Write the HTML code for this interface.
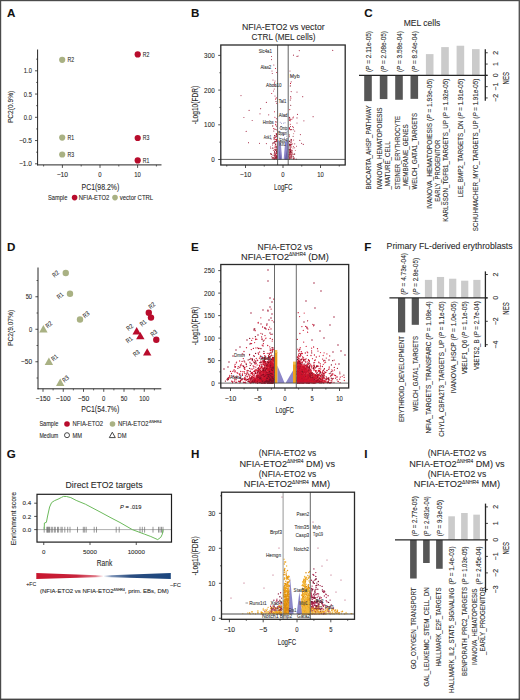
<!DOCTYPE html>
<html><head><meta charset="utf-8"><style>
html,body{margin:0;padding:0;background:#fff;width:520px;height:700px;overflow:hidden}
svg{display:block;font-family:'Liberation Sans', sans-serif;}
text{stroke:#2a2a2a;stroke-width:0.16px;stroke-opacity:0.6}
</style></head><body>
<svg width="520" height="700" viewBox="0 0 520 700" fill="#2a2a2a">
<rect x="0" y="0" width="520" height="700" fill="#fff"/>
<rect x="0.00" y="0.00" width="520.00" height="1.20" fill="#4a4a4a"/>
<rect x="0.00" y="0.00" width="1.20" height="700.00" fill="#4a4a4a"/>
<rect x="518.60" y="0.00" width="1.40" height="700.00" fill="#555"/>
<rect x="0.00" y="698.60" width="520.00" height="1.40" fill="#444"/>
<text x="6.90" y="16.70" font-size="11.6" font-weight="bold" fill="#111">A</text>
<line x1="37.60" y1="49.50" x2="37.60" y2="165.40" stroke="#262626" stroke-width="1"/>
<line x1="37.10" y1="164.90" x2="161.50" y2="164.90" stroke="#262626" stroke-width="1"/>
<line x1="35.00" y1="70.80" x2="37.60" y2="70.80" stroke="#262626" stroke-width="0.8"/>
<text x="31.90" y="73.28" font-size="6.9" text-anchor="end" textLength="8.06" lengthAdjust="spacingAndGlyphs">1.0</text>
<line x1="35.00" y1="94.05" x2="37.60" y2="94.05" stroke="#262626" stroke-width="0.8"/>
<text x="31.90" y="96.53" font-size="6.9" text-anchor="end" textLength="8.06" lengthAdjust="spacingAndGlyphs">0.5</text>
<line x1="35.00" y1="117.30" x2="37.60" y2="117.30" stroke="#262626" stroke-width="0.8"/>
<text x="31.90" y="119.78" font-size="6.9" text-anchor="end" textLength="8.06" lengthAdjust="spacingAndGlyphs">0.0</text>
<line x1="35.00" y1="140.55" x2="37.60" y2="140.55" stroke="#262626" stroke-width="0.8"/>
<text x="31.90" y="143.03" font-size="6.9" text-anchor="end" textLength="12.84" lengthAdjust="spacingAndGlyphs">−0.5</text>
<line x1="35.00" y1="163.80" x2="37.60" y2="163.80" stroke="#262626" stroke-width="0.8"/>
<text x="31.90" y="166.28" font-size="6.9" text-anchor="end" textLength="12.84" lengthAdjust="spacingAndGlyphs">−1.0</text>
<line x1="36.10" y1="59.17" x2="37.60" y2="59.17" stroke="#262626" stroke-width="0.7"/>
<line x1="36.10" y1="82.42" x2="37.60" y2="82.42" stroke="#262626" stroke-width="0.7"/>
<line x1="36.10" y1="105.67" x2="37.60" y2="105.67" stroke="#262626" stroke-width="0.7"/>
<line x1="36.10" y1="128.93" x2="37.60" y2="128.93" stroke="#262626" stroke-width="0.7"/>
<line x1="36.10" y1="152.18" x2="37.60" y2="152.18" stroke="#262626" stroke-width="0.7"/>
<line x1="62.40" y1="164.90" x2="62.40" y2="167.90" stroke="#262626" stroke-width="0.8"/>
<text x="62.40" y="177.28" font-size="6.9" text-anchor="middle" textLength="11.47" lengthAdjust="spacingAndGlyphs">−10</text>
<line x1="100.00" y1="164.90" x2="100.00" y2="167.90" stroke="#262626" stroke-width="0.8"/>
<text x="100.00" y="177.28" font-size="6.9" text-anchor="middle" textLength="3.3" lengthAdjust="spacingAndGlyphs">0</text>
<line x1="137.60" y1="164.90" x2="137.60" y2="167.90" stroke="#262626" stroke-width="0.8"/>
<text x="137.60" y="177.28" font-size="6.9" text-anchor="middle" textLength="6.6" lengthAdjust="spacingAndGlyphs">10</text>
<line x1="43.60" y1="164.90" x2="43.60" y2="166.50" stroke="#262626" stroke-width="0.7"/>
<line x1="81.20" y1="164.90" x2="81.20" y2="166.50" stroke="#262626" stroke-width="0.7"/>
<line x1="118.80" y1="164.90" x2="118.80" y2="166.50" stroke="#262626" stroke-width="0.7"/>
<line x1="156.40" y1="164.90" x2="156.40" y2="166.50" stroke="#262626" stroke-width="0.7"/>
<text x="100.40" y="189.62" font-size="8.4" text-anchor="middle" textLength="37.8" lengthAdjust="spacingAndGlyphs">PC1(98.2%)</text>
<text transform="translate(10.40,106.90) rotate(-90)" x="0" y="2.81" font-size="7.8" text-anchor="middle" textLength="32.4" lengthAdjust="spacingAndGlyphs">PC2(0.9%)</text>
<circle cx="62.20" cy="59.80" r="3.1" fill="#a9b183"/>
<text x="67.50" y="62.18" font-size="6.6" textLength="6.6" lengthAdjust="spacingAndGlyphs">R2</text>
<circle cx="62.20" cy="137.60" r="3.1" fill="#a9b183"/>
<text x="67.50" y="139.98" font-size="6.6" textLength="6.6" lengthAdjust="spacingAndGlyphs">R1</text>
<circle cx="62.20" cy="154.50" r="3.1" fill="#a9b183"/>
<text x="67.50" y="156.88" font-size="6.6" textLength="6.6" lengthAdjust="spacingAndGlyphs">R3</text>
<circle cx="137.70" cy="54.40" r="3.1" fill="#b80c2c"/>
<text x="142.80" y="56.78" font-size="6.6" textLength="6.6" lengthAdjust="spacingAndGlyphs">R2</text>
<circle cx="137.70" cy="138.00" r="3.1" fill="#b80c2c"/>
<text x="142.80" y="140.38" font-size="6.6" textLength="6.6" lengthAdjust="spacingAndGlyphs">R3</text>
<circle cx="137.70" cy="160.40" r="3.1" fill="#b80c2c"/>
<text x="142.80" y="162.78" font-size="6.6" textLength="6.6" lengthAdjust="spacingAndGlyphs">R1</text>
<text x="48.00" y="200.05" font-size="6.8" textLength="19.3" lengthAdjust="spacingAndGlyphs">Sample</text>
<circle cx="74.60" cy="197.60" r="2.8" fill="#b80c2c"/>
<text x="78.80" y="200.05" font-size="6.8" textLength="30.5" lengthAdjust="spacingAndGlyphs">NFIA-ETO2</text>
<circle cx="115.00" cy="197.60" r="2.8" fill="#a9b183"/>
<text x="119.70" y="200.05" font-size="6.8" textLength="33.5" lengthAdjust="spacingAndGlyphs">vector CTRL</text>
<text x="6.95" y="250.90" font-size="11.6" font-weight="bold" fill="#111">D</text>
<line x1="38.00" y1="267.50" x2="38.00" y2="389.30" stroke="#262626" stroke-width="1"/>
<line x1="37.50" y1="388.80" x2="161.30" y2="388.80" stroke="#262626" stroke-width="1"/>
<line x1="35.40" y1="296.75" x2="38.00" y2="296.75" stroke="#262626" stroke-width="0.8"/>
<text x="32.10" y="299.23" font-size="6.9" text-anchor="end" textLength="6.45" lengthAdjust="spacingAndGlyphs">50</text>
<line x1="35.40" y1="329.25" x2="38.00" y2="329.25" stroke="#262626" stroke-width="0.8"/>
<text x="32.10" y="331.73" font-size="6.9" text-anchor="end" textLength="3.22" lengthAdjust="spacingAndGlyphs">0</text>
<line x1="35.40" y1="361.75" x2="38.00" y2="361.75" stroke="#262626" stroke-width="0.8"/>
<text x="32.10" y="364.23" font-size="6.9" text-anchor="end" textLength="11.23" lengthAdjust="spacingAndGlyphs">−50</text>
<line x1="36.50" y1="280.50" x2="38.00" y2="280.50" stroke="#262626" stroke-width="0.7"/>
<line x1="36.50" y1="313.00" x2="38.00" y2="313.00" stroke="#262626" stroke-width="0.7"/>
<line x1="36.50" y1="345.50" x2="38.00" y2="345.50" stroke="#262626" stroke-width="0.7"/>
<line x1="36.50" y1="378.00" x2="38.00" y2="378.00" stroke="#262626" stroke-width="0.7"/>
<line x1="43.00" y1="388.80" x2="43.00" y2="391.80" stroke="#262626" stroke-width="0.8"/>
<text x="43.00" y="400.78" font-size="6.9" text-anchor="middle" textLength="14.77" lengthAdjust="spacingAndGlyphs">−150</text>
<line x1="63.25" y1="388.80" x2="63.25" y2="391.80" stroke="#262626" stroke-width="0.8"/>
<text x="63.25" y="400.78" font-size="6.9" text-anchor="middle" textLength="14.77" lengthAdjust="spacingAndGlyphs">−100</text>
<line x1="83.50" y1="388.80" x2="83.50" y2="391.80" stroke="#262626" stroke-width="0.8"/>
<text x="83.50" y="400.78" font-size="6.9" text-anchor="middle" textLength="11.47" lengthAdjust="spacingAndGlyphs">−50</text>
<line x1="103.75" y1="388.80" x2="103.75" y2="391.80" stroke="#262626" stroke-width="0.8"/>
<text x="103.75" y="400.78" font-size="6.9" text-anchor="middle" textLength="3.3" lengthAdjust="spacingAndGlyphs">0</text>
<line x1="124.00" y1="388.80" x2="124.00" y2="391.80" stroke="#262626" stroke-width="0.8"/>
<text x="124.00" y="400.78" font-size="6.9" text-anchor="middle" textLength="6.6" lengthAdjust="spacingAndGlyphs">50</text>
<line x1="144.25" y1="388.80" x2="144.25" y2="391.80" stroke="#262626" stroke-width="0.8"/>
<text x="144.25" y="400.78" font-size="6.9" text-anchor="middle" textLength="9.9" lengthAdjust="spacingAndGlyphs">100</text>
<line x1="53.12" y1="388.80" x2="53.12" y2="390.40" stroke="#262626" stroke-width="0.7"/>
<line x1="73.38" y1="388.80" x2="73.38" y2="390.40" stroke="#262626" stroke-width="0.7"/>
<line x1="93.62" y1="388.80" x2="93.62" y2="390.40" stroke="#262626" stroke-width="0.7"/>
<line x1="113.88" y1="388.80" x2="113.88" y2="390.40" stroke="#262626" stroke-width="0.7"/>
<line x1="134.12" y1="388.80" x2="134.12" y2="390.40" stroke="#262626" stroke-width="0.7"/>
<line x1="154.38" y1="388.80" x2="154.38" y2="390.40" stroke="#262626" stroke-width="0.7"/>
<text x="100.30" y="412.22" font-size="8.4" text-anchor="middle" textLength="38" lengthAdjust="spacingAndGlyphs">PC1(54.7%)</text>
<text transform="translate(10.60,327.90) rotate(-90)" x="0" y="2.81" font-size="7.8" text-anchor="middle" textLength="36" lengthAdjust="spacingAndGlyphs">PC2(9.07%)</text>
<circle cx="65.75" cy="273.00" r="3.2" fill="#a9b183"/>
<circle cx="70.00" cy="293.75" r="3.2" fill="#a9b183"/>
<circle cx="80.00" cy="319.50" r="3.2" fill="#a9b183"/>
<polygon points="43.40,325.12 39.20,332.42 47.60,332.42" fill="#a9b183"/>
<polygon points="48.90,357.62 44.70,364.92 53.10,364.92" fill="#a9b183"/>
<polygon points="60.20,378.62 56.00,385.92 64.40,385.92" fill="#a9b183"/>
<circle cx="148.80" cy="312.80" r="3.2" fill="#b80c2c"/>
<circle cx="151.00" cy="317.60" r="3.2" fill="#b80c2c"/>
<circle cx="156.30" cy="339.70" r="3.2" fill="#b80c2c"/>
<polygon points="136.70,327.12 132.50,334.42 140.90,334.42" fill="#b80c2c"/>
<polygon points="140.30,331.92 136.10,339.22 144.50,339.22" fill="#b80c2c"/>
<polygon points="147.20,348.22 143.00,355.52 151.40,355.52" fill="#b80c2c"/>
<text transform="translate(55.50,273.80) rotate(-40)" x="0" y="2.30" font-size="6.4" text-anchor="middle" textLength="6.6" lengthAdjust="spacingAndGlyphs">R2</text>
<text transform="translate(60.00,295.50) rotate(-40)" x="0" y="2.30" font-size="6.4" text-anchor="middle" textLength="6.6" lengthAdjust="spacingAndGlyphs">R1</text>
<text transform="translate(86.00,314.50) rotate(-40)" x="0" y="2.30" font-size="6.4" text-anchor="middle" textLength="6.6" lengthAdjust="spacingAndGlyphs">R3</text>
<text transform="translate(48.80,324.50) rotate(-40)" x="0" y="2.30" font-size="6.4" text-anchor="middle" textLength="6.6" lengthAdjust="spacingAndGlyphs">R2</text>
<text transform="translate(54.50,357.50) rotate(-40)" x="0" y="2.30" font-size="6.4" text-anchor="middle" textLength="6.6" lengthAdjust="spacingAndGlyphs">R1</text>
<text transform="translate(65.50,378.80) rotate(-40)" x="0" y="2.30" font-size="6.4" text-anchor="middle" textLength="6.6" lengthAdjust="spacingAndGlyphs">R3</text>
<text transform="translate(151.70,305.60) rotate(-40)" x="0" y="2.30" font-size="6.4" text-anchor="middle" textLength="6.6" lengthAdjust="spacingAndGlyphs">R2</text>
<text transform="translate(143.00,322.90) rotate(-40)" x="0" y="2.30" font-size="6.4" text-anchor="middle" textLength="6.6" lengthAdjust="spacingAndGlyphs">R1</text>
<text transform="translate(129.60,327.20) rotate(-40)" x="0" y="2.30" font-size="6.4" text-anchor="middle" textLength="6.6" lengthAdjust="spacingAndGlyphs">R2</text>
<text transform="translate(129.10,339.70) rotate(-40)" x="0" y="2.30" font-size="6.4" text-anchor="middle" textLength="6.6" lengthAdjust="spacingAndGlyphs">R1</text>
<text transform="translate(153.70,333.00) rotate(-40)" x="0" y="2.30" font-size="6.4" text-anchor="middle" textLength="6.6" lengthAdjust="spacingAndGlyphs">R3</text>
<text transform="translate(136.30,353.20) rotate(-40)" x="0" y="2.30" font-size="6.4" text-anchor="middle" textLength="6.6" lengthAdjust="spacingAndGlyphs">R3</text>
<text x="39.40" y="426.45" font-size="6.8" textLength="18.9" lengthAdjust="spacingAndGlyphs">Sample</text>
<circle cx="67.00" cy="424.00" r="2.8" fill="#b80c2c"/>
<text x="72.50" y="426.45" font-size="6.8" textLength="30.5" lengthAdjust="spacingAndGlyphs">NFIA-ETO2</text>
<circle cx="112.50" cy="424.00" r="2.8" fill="#a9b183"/>
<text x="118.00" y="426.45" font-size="6.8" textLength="30.5" lengthAdjust="spacingAndGlyphs">NFIA-ETO2</text>
<text x="149.00" y="422.57" font-size="3.8" textLength="12.5" lengthAdjust="spacingAndGlyphs">ΔNHR4</text>
<text x="39.40" y="437.65" font-size="6.8" textLength="18.9" lengthAdjust="spacingAndGlyphs">Medium</text>
<circle cx="67" cy="435.2" r="2.5" fill="none" stroke="#333" stroke-width="0.9"/>
<text x="72.50" y="437.65" font-size="6.8" textLength="9.5" lengthAdjust="spacingAndGlyphs">MM</text>
<polygon points="112.3,432.2 109.3,437.6 115.3,437.6" fill="none" stroke="#333" stroke-width="0.9"/>
<text x="117.60" y="437.65" font-size="6.8" textLength="9" lengthAdjust="spacingAndGlyphs">DM</text>
<text x="6.70" y="458.30" font-size="11.6" font-weight="bold" fill="#111">G</text>
<text x="65.50" y="488.38" font-size="9.4" textLength="77" lengthAdjust="spacingAndGlyphs">Direct ETO2 targets</text>
<line x1="37.00" y1="529.60" x2="171.50" y2="529.60" stroke="#9a9a9a" stroke-width="0.8"/>
<line x1="44.20" y1="526.80" x2="44.20" y2="532.60" stroke="#6a6a6a" stroke-width="0.7"/>
<line x1="46.80" y1="526.80" x2="46.80" y2="532.60" stroke="#6a6a6a" stroke-width="0.7"/>
<line x1="47.50" y1="526.80" x2="47.50" y2="532.60" stroke="#6a6a6a" stroke-width="0.7"/>
<line x1="48.20" y1="526.80" x2="48.20" y2="532.60" stroke="#6a6a6a" stroke-width="0.7"/>
<line x1="48.80" y1="526.80" x2="48.80" y2="532.60" stroke="#6a6a6a" stroke-width="0.7"/>
<line x1="49.50" y1="526.80" x2="49.50" y2="532.60" stroke="#6a6a6a" stroke-width="0.7"/>
<line x1="51.20" y1="526.80" x2="51.20" y2="532.60" stroke="#6a6a6a" stroke-width="0.7"/>
<line x1="52.30" y1="526.80" x2="52.30" y2="532.60" stroke="#6a6a6a" stroke-width="0.7"/>
<line x1="54.30" y1="526.80" x2="54.30" y2="532.60" stroke="#6a6a6a" stroke-width="0.7"/>
<line x1="55.30" y1="526.80" x2="55.30" y2="532.60" stroke="#6a6a6a" stroke-width="0.7"/>
<line x1="57.50" y1="526.80" x2="57.50" y2="532.60" stroke="#6a6a6a" stroke-width="0.7"/>
<line x1="58.60" y1="526.80" x2="58.60" y2="532.60" stroke="#6a6a6a" stroke-width="0.7"/>
<line x1="61.00" y1="526.80" x2="61.00" y2="532.60" stroke="#6a6a6a" stroke-width="0.7"/>
<line x1="62.20" y1="526.80" x2="62.20" y2="532.60" stroke="#6a6a6a" stroke-width="0.7"/>
<line x1="64.80" y1="526.80" x2="64.80" y2="532.60" stroke="#6a6a6a" stroke-width="0.7"/>
<line x1="67.70" y1="526.80" x2="67.70" y2="532.60" stroke="#6a6a6a" stroke-width="0.7"/>
<line x1="70.00" y1="526.80" x2="70.00" y2="532.60" stroke="#6a6a6a" stroke-width="0.7"/>
<line x1="77.50" y1="526.80" x2="77.50" y2="532.60" stroke="#6a6a6a" stroke-width="0.7"/>
<line x1="83.30" y1="526.80" x2="83.30" y2="532.60" stroke="#6a6a6a" stroke-width="0.7"/>
<line x1="84.70" y1="526.80" x2="84.70" y2="532.60" stroke="#6a6a6a" stroke-width="0.7"/>
<line x1="86.20" y1="526.80" x2="86.20" y2="532.60" stroke="#6a6a6a" stroke-width="0.7"/>
<line x1="94.20" y1="526.80" x2="94.20" y2="532.60" stroke="#6a6a6a" stroke-width="0.7"/>
<line x1="96.50" y1="526.80" x2="96.50" y2="532.60" stroke="#6a6a6a" stroke-width="0.7"/>
<line x1="116.20" y1="526.80" x2="116.20" y2="532.60" stroke="#6a6a6a" stroke-width="0.7"/>
<line x1="119.20" y1="526.80" x2="119.20" y2="532.60" stroke="#6a6a6a" stroke-width="0.7"/>
<line x1="140.00" y1="526.80" x2="140.00" y2="532.60" stroke="#6a6a6a" stroke-width="0.7"/>
<line x1="142.30" y1="526.80" x2="142.30" y2="532.60" stroke="#6a6a6a" stroke-width="0.7"/>
<line x1="144.60" y1="526.80" x2="144.60" y2="532.60" stroke="#6a6a6a" stroke-width="0.7"/>
<line x1="153.00" y1="526.80" x2="153.00" y2="532.60" stroke="#6a6a6a" stroke-width="0.7"/>
<line x1="158.50" y1="526.80" x2="158.50" y2="532.60" stroke="#6a6a6a" stroke-width="0.7"/>
<line x1="160.00" y1="526.80" x2="160.00" y2="532.60" stroke="#6a6a6a" stroke-width="0.7"/>
<line x1="161.50" y1="526.80" x2="161.50" y2="532.60" stroke="#6a6a6a" stroke-width="0.7"/>
<line x1="163.00" y1="526.80" x2="163.00" y2="532.60" stroke="#6a6a6a" stroke-width="0.7"/>
<polyline fill="none" stroke="#6cba5c" stroke-width="1" stroke-linejoin="round" points="44.2,529.5 44.4,523.0 46.4,522.3 47.6,516.0 49.6,507.0 51.6,502.6 54.6,500.6 58.0,499.2 61.5,497.4 63.5,496.4 66.5,496.5 70.8,497.6 76.2,500.4 85.4,504.2 100.0,511.9 110.0,517.3 120.0,522.5 132.3,529.6 144.6,534.2 150.8,536.5 157.7,539.6 160.8,537.3 162.3,534.2 163.0,529.6"/>
<rect x="37" y="494.3" width="134.5" height="47.8" fill="none" stroke="#1e1e1e" stroke-width="1.2"/>
<line x1="34.20" y1="503.20" x2="37.00" y2="503.20" stroke="#262626" stroke-width="0.8"/>
<text x="31.20" y="505.43" font-size="6.2" text-anchor="end">0.4</text>
<line x1="34.20" y1="516.40" x2="37.00" y2="516.40" stroke="#262626" stroke-width="0.8"/>
<text x="31.20" y="518.63" font-size="6.2" text-anchor="end">0.2</text>
<line x1="34.20" y1="529.60" x2="37.00" y2="529.60" stroke="#262626" stroke-width="0.8"/>
<text x="31.20" y="531.83" font-size="6.2" text-anchor="end">0.0</text>
<line x1="43.75" y1="542.20" x2="43.75" y2="545.00" stroke="#262626" stroke-width="0.8"/>
<text x="43.75" y="554.43" font-size="6.2" text-anchor="middle">0</text>
<line x1="90.00" y1="542.20" x2="90.00" y2="545.00" stroke="#262626" stroke-width="0.8"/>
<text x="90.00" y="554.43" font-size="6.2" text-anchor="middle">5000</text>
<line x1="136.25" y1="542.20" x2="136.25" y2="545.00" stroke="#262626" stroke-width="0.8"/>
<text x="136.25" y="554.43" font-size="6.2" text-anchor="middle">10000</text>
<text x="104.50" y="565.95" font-size="8.2" text-anchor="middle" textLength="15.5" lengthAdjust="spacingAndGlyphs">Rank</text>
<text transform="translate(13.20,518.60) rotate(-90)" x="0" y="2.81" font-size="7.8" text-anchor="middle" textLength="53.5" lengthAdjust="spacingAndGlyphs">Enrichment score</text>
<text x="120.00" y="508.69" font-size="5.8" textLength="21.5" lengthAdjust="spacingAndGlyphs"><tspan font-style="italic">P</tspan> = .019</text>
<defs><linearGradient id="gw" x1="0" x2="1" y1="0" y2="0">
<stop offset="0" stop-color="#c8162e"/><stop offset="0.3" stop-color="#c8243c"/><stop offset="0.44" stop-color="#e07a88"/><stop offset="0.5" stop-color="#ffffff"/>
<stop offset="0.56" stop-color="#7f95b8"/><stop offset="0.7" stop-color="#2a4d80"/><stop offset="1" stop-color="#1b467e"/></linearGradient></defs>
<polygon points="36.3,572.9 103.5,575.4 170.8,572.9 170.8,579.1 103.5,577.0 36.3,579.1" fill="url(#gw)"/>
<text x="26.30" y="586.32" font-size="5.6" textLength="10" lengthAdjust="spacingAndGlyphs">+FC</text>
<text x="170.00" y="587.02" font-size="5.6" textLength="11" lengthAdjust="spacingAndGlyphs">−FC</text>
<text x="40.00" y="593.24" font-size="5.4" textLength="128.7" lengthAdjust="spacingAndGlyphs">(NFIA-ETO2 vs NFIA-ETO2<tspan font-size="3" dy="-2">ΔNHR4</tspan><tspan dy="2">, prim. EBs, DM)</tspan></text>
<text x="191.05" y="16.70" font-size="11.6" font-weight="bold" fill="#111">B</text>
<text x="283.30" y="30.28" font-size="9.4" text-anchor="middle" textLength="82.8" lengthAdjust="spacingAndGlyphs">NFIA-ETO2 vs vector</text>
<text x="283.60" y="39.98" font-size="9.4" text-anchor="middle" textLength="64" lengthAdjust="spacingAndGlyphs">CTRL (MEL cells)</text>
<polygon points="278.2,159.4 278.2,140 280.6,142 282.3,159.4" fill="#8c86c8"/>
<polygon points="283.6,159.4 285.2,142 288.2,140 288.2,159.4" fill="#8c86c8"/>
<polygon points="279.2,159.4 279.5,150 281.2,159.4" fill="#6a62a8"/>
<polygon points="284.8,159.4 286.8,150 287.3,159.4" fill="#6a62a8"/>
<path d="M282.9 133.2h0M287.1 131.3h0M283.4 133.7h0M280.5 132.2h0M284.5 137.9h0M279.6 128.1h0M279.6 138.2h0M285.0 122.8h0M287.6 141.3h0M284.7 134.3h0M280.2 122.3h0M283.6 123.2h0M280.5 126.8h0M279.1 131.3h0M282.8 138.8h0M283.5 134.8h0M283.3 135.2h0M282.9 127.6h0M287.8 141.9h0M286.4 136.2h0M281.6 126.6h0M281.4 123.4h0M285.7 130.0h0M286.4 129.7h0M287.4 138.9h0" stroke="#8f8ac4" stroke-width="1.00" stroke-linecap="round" fill="none"/>
<path d="M276.8 157.0h0M276.7 149.5h0M276.4 156.5h0M276.4 146.1h0M276.4 129.9h0M274.6 156.7h0M276.7 159.2h0M274.7 138.1h0M275.8 144.3h0M273.5 158.6h0M276.4 157.6h0M274.9 154.0h0M275.8 143.6h0M276.1 141.6h0M275.3 155.9h0M274.3 154.9h0M272.5 158.6h0M275.3 139.5h0M276.4 146.8h0M272.7 126.1h0M273.8 158.8h0M276.5 155.4h0M271.6 154.0h0M276.1 154.7h0M272.6 157.4h0M275.1 159.1h0M275.5 154.5h0M272.1 158.3h0" stroke="#c8646e" stroke-width="1.00" stroke-linecap="round" fill="none"/>
<path d="M275.7 121.8h0M273.9 157.7h0M275.7 157.4h0M272.9 157.4h0M275.1 155.0h0M271.0 154.2h0M275.3 141.3h0M276.8 156.3h0M276.7 157.5h0M275.3 158.1h0M272.8 125.9h0M275.0 153.3h0M276.7 151.5h0M272.7 148.1h0M274.0 137.4h0M275.3 150.2h0M273.0 148.2h0M274.4 151.5h0M276.7 150.2h0M276.3 147.6h0M276.8 155.8h0M273.0 155.2h0M276.1 158.0h0M273.5 142.8h0M275.8 149.9h0M273.1 159.0h0M276.8 157.9h0M276.5 158.9h0M275.7 149.9h0M273.8 131.1h0M276.8 153.0h0M276.4 156.3h0M274.6 152.6h0M274.5 158.1h0M275.0 136.9h0M271.6 154.4h0M272.5 143.2h0M276.6 153.6h0M276.5 157.8h0M274.5 142.7h0M276.6 156.9h0M276.2 146.7h0M275.5 141.8h0M270.6 153.7h0M276.4 151.8h0M275.3 153.0h0M276.7 151.7h0M275.6 158.1h0M273.8 139.0h0M276.1 157.3h0M274.7 155.8h0" stroke="#7e0f22" stroke-width="1.00" stroke-linecap="round" fill="none"/>
<path d="M276.2 158.5h0M270.8 148.4h0M276.3 158.4h0M276.5 149.2h0M275.8 157.1h0M270.4 147.0h0M273.3 150.5h0M276.1 156.0h0M276.6 150.7h0M273.2 157.7h0M272.5 145.1h0M275.1 154.3h0M276.7 126.6h0M275.2 156.1h0M274.5 158.7h0M276.2 135.0h0M274.7 151.3h0M274.6 129.2h0M275.2 150.6h0M275.1 135.7h0M276.1 148.7h0M271.4 156.8h0M275.7 156.3h0M275.7 158.7h0M276.8 141.7h0M276.4 153.1h0M275.0 147.6h0M275.4 144.6h0M274.2 153.4h0M271.1 139.2h0M276.8 157.2h0" stroke="#b03048" stroke-width="1.00" stroke-linecap="round" fill="none"/>
<path d="M290.9 158.3h0M289.6 151.2h0M290.0 153.7h0M289.5 156.9h0M289.4 153.8h0M289.2 156.9h0M290.5 144.5h0M289.4 159.0h0M289.9 152.7h0M290.3 145.2h0M289.6 157.4h0M291.4 139.5h0M290.1 149.7h0M291.8 154.2h0M289.3 154.8h0M289.2 154.6h0M291.2 155.2h0M290.7 151.5h0M296.2 159.2h0M291.6 156.4h0M289.3 157.0h0M294.0 157.8h0M289.5 152.0h0M289.3 127.6h0M290.5 149.9h0M289.8 148.0h0M289.5 144.1h0M290.3 147.8h0M289.7 150.0h0M291.3 151.0h0M289.3 155.9h0M291.0 158.3h0M289.3 158.4h0M290.6 149.0h0M290.4 156.9h0M289.4 141.3h0M291.8 157.0h0M289.7 141.5h0M289.9 150.9h0M293.8 154.3h0M289.4 150.3h0M289.3 156.8h0M289.4 155.4h0M290.0 145.6h0M289.4 145.9h0M293.3 156.7h0M290.0 154.6h0M290.1 157.1h0M290.5 151.2h0M289.4 158.5h0M293.3 158.6h0M289.5 144.5h0M290.5 144.3h0M291.2 152.5h0M290.2 140.8h0M293.2 129.7h0M289.3 152.7h0M291.8 155.7h0M293.1 136.4h0M290.6 126.6h0" stroke="#7e0f22" stroke-width="1.00" stroke-linecap="round" fill="none"/>
<path d="M289.4 151.6h0M290.9 139.4h0M293.1 158.1h0M291.5 156.4h0M293.6 127.6h0M291.3 157.3h0M290.5 150.6h0M293.9 158.5h0M290.2 149.7h0M291.4 140.6h0M296.5 146.3h0M291.0 142.4h0M290.8 144.7h0M289.8 145.8h0M289.2 156.3h0M293.3 146.6h0M292.3 150.4h0M291.0 153.2h0M289.3 151.2h0M294.7 147.8h0M291.0 154.8h0M291.0 145.0h0M293.7 140.1h0M291.7 141.2h0M289.4 136.7h0M291.3 156.0h0M290.2 142.2h0M293.0 156.3h0M290.2 153.6h0M290.0 157.4h0M289.3 155.4h0M291.1 144.1h0M293.5 159.1h0M289.6 156.7h0M291.5 150.3h0M289.6 155.8h0M292.3 153.0h0" stroke="#b03048" stroke-width="1.00" stroke-linecap="round" fill="none"/>
<path d="M291.0 151.7h0M291.6 142.8h0M289.9 155.3h0M292.4 154.1h0M289.6 156.9h0M294.6 154.0h0M289.2 134.8h0M293.6 146.8h0M292.2 154.3h0M293.0 148.2h0M291.0 156.7h0M291.1 147.0h0M289.4 156.2h0M290.6 152.0h0M294.4 158.7h0M290.2 152.5h0M289.7 151.4h0M291.5 153.1h0M291.9 151.9h0M289.4 135.0h0M291.3 155.8h0M293.7 133.7h0M289.9 153.9h0M292.1 151.8h0M290.7 157.4h0M295.3 150.5h0M289.3 150.7h0M289.7 156.7h0M291.5 147.0h0M292.7 143.7h0M290.5 146.5h0M290.2 155.7h0M289.6 158.8h0" stroke="#c8646e" stroke-width="1.00" stroke-linecap="round" fill="none"/>
<path d="M274.4 138.0h0M275.2 146.9h0M274.9 117.2h0M276.5 140.2h0M273.7 128.6h0M276.3 122.0h0M274.0 85.2h0M276.3 97.9h0M275.5 68.5h0M276.7 72.5h0M275.6 124.3h0M274.1 143.2h0M276.7 141.3h0M274.9 139.2h0M276.6 134.5h0M271.7 93.5h0M276.8 135.8h0M276.4 118.7h0M274.4 149.2h0M276.3 136.4h0M276.3 139.4h0M275.2 145.8h0M275.6 99.1h0M274.2 155.2h0M276.7 103.2h0M275.5 155.0h0M276.5 152.9h0M276.0 125.1h0M274.6 82.7h0M276.2 133.6h0M274.5 111.7h0M276.8 139.3h0" stroke="#c8102e" stroke-width="1.10" stroke-linecap="round" fill="none"/>
<path d="M275.7 144.2h0M275.8 137.3h0M274.6 159.3h0M275.8 129.3h0M274.5 135.6h0M274.8 141.4h0M276.5 134.1h0M276.0 101.5h0" stroke="#7e0f22" stroke-width="1.10" stroke-linecap="round" fill="none"/>
<path d="M290.8 154.2h0M292.7 126.6h0M290.2 152.2h0M290.7 149.2h0M289.6 117.3h0M289.9 129.4h0M290.4 120.7h0M291.8 119.3h0M289.5 120.3h0M293.4 117.0h0M290.9 98.1h0M290.5 83.4h0M289.5 128.4h0M289.9 118.8h0M290.3 144.9h0M289.8 109.6h0M290.6 129.8h0M291.9 76.0h0M290.3 124.3h0" stroke="#c8102e" stroke-width="1.10" stroke-linecap="round" fill="none"/>
<path d="M290.3 85.9h0M290.6 151.4h0M290.3 100.0h0M294.7 154.1h0M291.8 144.6h0M289.6 117.7h0M289.2 149.5h0M290.9 152.2h0M290.7 105.2h0M291.3 129.6h0M290.1 119.4h0" stroke="#7e0f22" stroke-width="1.10" stroke-linecap="round" fill="none"/>
<path d="M241.0 95.6h0M266.4 102.5h0M249.1 110.4h0M260.6 108.7h0M260.0 113.8h0M243.9 117.5h0M252.2 120.5h0M268.7 114.8h0M246.2 131.4h0M248.5 142.7h0M259.5 143.3h0M266.4 143.6h0M266.4 102.3h0M271.5 56.5h0M271.5 59.6h0M273.8 65.0h0M272.0 71.0h0M272.3 73.5h0M273.0 80.0h0M275.0 81.0h0M275.7 86.0h0M274.3 89.0h0M273.5 91.0h0M275.0 96.0h0M299.3 50.6h0M293.5 55.2h0M297.0 56.4h0M298.1 56.0h0M332.7 50.4h0M291.2 81.8h0M297.0 92.1h0M302.7 96.7h0M290.6 96.7h0M291.2 91.6h0M290.0 71.0h0M297.5 114.4h0M292.9 117.9h0M297.0 117.9h0M303.9 120.8h0M313.1 116.7h0M297.0 123.0h0M294.7 131.1h0M300.4 134.6h0M299.8 140.4h0M301.6 143.3h0M303.3 144.4h0M294.7 143.8h0" stroke="#b0405a" stroke-width="1.20" stroke-linecap="round" fill="none"/>
<line x1="277.60" y1="45.00" x2="277.60" y2="165.00" stroke="#3a3a3a" stroke-width="0.8"/>
<line x1="288.20" y1="45.00" x2="288.20" y2="165.00" stroke="#3a3a3a" stroke-width="0.8"/>
<line x1="220.80" y1="159.40" x2="345.20" y2="159.40" stroke="#3a3a3a" stroke-width="0.8"/>
<rect x="220.80" y="45.00" width="124.40" height="120.00" fill="none" stroke="#2a2a2a" stroke-width="1.3"/>
<line x1="218.20" y1="55.40" x2="220.80" y2="55.40" stroke="#262626" stroke-width="0.8"/>
<text x="214.70" y="57.88" font-size="6.9" text-anchor="end" textLength="10.59" lengthAdjust="spacingAndGlyphs">300</text>
<line x1="218.20" y1="90.10" x2="220.80" y2="90.10" stroke="#262626" stroke-width="0.8"/>
<text x="214.70" y="92.58" font-size="6.9" text-anchor="end" textLength="10.59" lengthAdjust="spacingAndGlyphs">200</text>
<line x1="218.20" y1="124.80" x2="220.80" y2="124.80" stroke="#262626" stroke-width="0.8"/>
<text x="214.70" y="127.28" font-size="6.9" text-anchor="end" textLength="10.59" lengthAdjust="spacingAndGlyphs">100</text>
<line x1="218.20" y1="159.50" x2="220.80" y2="159.50" stroke="#262626" stroke-width="0.8"/>
<text x="214.70" y="161.98" font-size="6.9" text-anchor="end" textLength="3.53" lengthAdjust="spacingAndGlyphs">0</text>
<line x1="219.30" y1="72.75" x2="220.80" y2="72.75" stroke="#262626" stroke-width="0.7"/>
<line x1="219.30" y1="107.45" x2="220.80" y2="107.45" stroke="#262626" stroke-width="0.7"/>
<line x1="219.30" y1="142.15" x2="220.80" y2="142.15" stroke="#262626" stroke-width="0.7"/>
<line x1="245.50" y1="165.00" x2="245.50" y2="168.00" stroke="#262626" stroke-width="0.8"/>
<text x="245.50" y="177.28" font-size="6.9" text-anchor="middle" textLength="11.47" lengthAdjust="spacingAndGlyphs">−10</text>
<line x1="283.00" y1="165.00" x2="283.00" y2="168.00" stroke="#262626" stroke-width="0.8"/>
<text x="283.00" y="177.28" font-size="6.9" text-anchor="middle" textLength="3.3" lengthAdjust="spacingAndGlyphs">0</text>
<line x1="320.50" y1="165.00" x2="320.50" y2="168.00" stroke="#262626" stroke-width="0.8"/>
<text x="320.50" y="177.28" font-size="6.9" text-anchor="middle" textLength="6.6" lengthAdjust="spacingAndGlyphs">10</text>
<line x1="226.75" y1="165.00" x2="226.75" y2="166.60" stroke="#262626" stroke-width="0.7"/>
<line x1="264.25" y1="165.00" x2="264.25" y2="166.60" stroke="#262626" stroke-width="0.7"/>
<line x1="301.75" y1="165.00" x2="301.75" y2="166.60" stroke="#262626" stroke-width="0.7"/>
<line x1="339.25" y1="165.00" x2="339.25" y2="166.60" stroke="#262626" stroke-width="0.7"/>
<text x="283.30" y="189.54" font-size="9" text-anchor="middle" textLength="18.4" lengthAdjust="spacingAndGlyphs">LogFC</text>
<text transform="translate(195.00,105.00) rotate(-90)" x="0" y="2.95" font-size="8.2" text-anchor="middle" textLength="38.6" lengthAdjust="spacingAndGlyphs">-Log10(FDR)</text>
<text x="258.70" y="53.14" font-size="5.4" textLength="13.2" lengthAdjust="spacingAndGlyphs" fill="#383838">Slc4a1</text>
<text x="260.40" y="68.94" font-size="5.4" textLength="10.9" lengthAdjust="spacingAndGlyphs" fill="#383838">Alas2</text>
<text x="266.10" y="86.94" font-size="5.4" textLength="15.5" lengthAdjust="spacingAndGlyphs" fill="#383838">Abcb10</text>
<text x="289.80" y="77.94" font-size="5.4" textLength="9.8" lengthAdjust="spacingAndGlyphs" fill="#383838">Myb</text>
<text x="278.80" y="102.64" font-size="5.4" textLength="7.5" lengthAdjust="spacingAndGlyphs" fill="#383838">Tal1</text>
<text x="278.80" y="117.24" font-size="5.4" textLength="8.7" lengthAdjust="spacingAndGlyphs" fill="#383838">Alad</text>
<text x="262.70" y="123.84" font-size="5.4" textLength="11" lengthAdjust="spacingAndGlyphs" fill="#383838">Hmbs</text>
<text x="280.20" y="129.54" font-size="5.4" textLength="7.3" lengthAdjust="spacingAndGlyphs" fill="#383838">Dmtn</text>
<text x="278.30" y="135.34" font-size="5.4" textLength="8.7" lengthAdjust="spacingAndGlyphs" fill="#383838">Bpgm</text>
<text x="263.80" y="138.84" font-size="5.4" textLength="7.5" lengthAdjust="spacingAndGlyphs" fill="#383838">Ank1</text>
<text x="279.40" y="141.74" font-size="5.4" textLength="8.1" lengthAdjust="spacingAndGlyphs" fill="#383838">Epb4</text>
<text x="279.40" y="146.34" font-size="5.4" textLength="6.5" lengthAdjust="spacingAndGlyphs" fill="#383838">Klf1</text>
<text x="191.05" y="250.90" font-size="11.6" font-weight="bold" fill="#111">E</text>
<text x="285.00" y="249.68" font-size="9.4" text-anchor="middle" textLength="55" lengthAdjust="spacingAndGlyphs">NFIA-ETO2 vs</text>
<text x="241.00" y="259.78" font-size="9.4" textLength="87.8" lengthAdjust="spacingAndGlyphs">NFIA-ETO2<tspan font-size="5" dy="-3.3">ΔNHR4</tspan><tspan dy="3.3"> (DM)</tspan></text>
<polygon points="277.3,365.5 277.3,383.1 284.6,383.1" fill="#8c86c8"/>
<polygon points="285.6,383.1 293,383.1 293,370.5" fill="#8c86c8"/>
<rect x="274.9" y="352" width="2.4" height="31.1" fill="#eea21c"/>
<rect x="293" y="363.6" width="3.1" height="19.5" fill="#eea21c"/>
<rect x="274.9" y="350" width="2.4" height="3" fill="#f3c04a"/>
<rect x="293" y="361.6" width="3.1" height="3" fill="#f3c04a"/>
<polygon points="274.5,383.1 274.5,356 268,363 258,375 250,383.1" fill="#d41424" opacity="0.8"/>
<polygon points="296.6,383.1 296.6,360 303,365 312,372 322,379 330,383.1" fill="#d81420" opacity="0.8"/>
<path d="M242.8 371.7h0M241.9 379.9h0M264.9 370.7h0M245.6 382.2h0M260.8 356.2h0M257.2 374.5h0M247.2 370.5h0M265.7 338.6h0M266.3 378.0h0M268.5 382.6h0M261.3 377.2h0M249.6 376.9h0M271.5 376.5h0M261.2 371.6h0M255.4 378.0h0M273.0 382.5h0M272.6 383.1h0M267.6 372.8h0M263.2 362.1h0M237.0 372.7h0M247.3 376.5h0M252.2 372.5h0M258.5 380.8h0M264.2 382.5h0M252.3 369.2h0M263.0 367.6h0M268.4 378.4h0M267.3 365.3h0M269.4 381.6h0M258.0 373.1h0M259.4 382.1h0M273.7 377.6h0M254.4 375.1h0M239.6 361.0h0M255.9 338.9h0M264.4 361.2h0M250.2 363.1h0M267.3 353.3h0M259.1 379.9h0M273.0 377.2h0M248.0 379.4h0M264.0 379.4h0M269.3 374.8h0M266.3 375.3h0M241.1 380.1h0M240.5 381.7h0M246.7 380.1h0M255.1 382.1h0M255.9 381.3h0M258.9 375.3h0M265.3 375.7h0M269.9 370.3h0M244.2 371.7h0M268.3 374.2h0M271.4 376.8h0M259.6 373.2h0M265.6 364.2h0M253.5 381.6h0M233.3 376.4h0M266.4 378.5h0M257.9 376.7h0M268.4 372.5h0M260.8 317.8h0M270.8 376.5h0M252.6 377.0h0M262.4 382.5h0M272.2 381.2h0M263.8 353.5h0M272.2 341.1h0M259.1 369.1h0M258.7 369.9h0M258.8 378.8h0M249.2 376.1h0M251.9 372.6h0M266.8 358.7h0M273.7 359.3h0M256.3 358.5h0M262.9 371.5h0M257.6 347.8h0M259.1 372.2h0M261.9 380.9h0M245.3 378.4h0M244.1 354.9h0M266.4 358.5h0M260.8 376.2h0M261.9 379.5h0M257.1 365.0h0M271.5 376.9h0M258.2 375.0h0M273.2 380.1h0M259.3 377.3h0M268.5 372.6h0M263.7 382.7h0M265.8 363.6h0M236.6 362.1h0M269.6 327.1h0M270.7 372.4h0M240.6 378.6h0M267.8 379.7h0M244.7 369.1h0M259.5 374.4h0M254.8 373.9h0M262.1 339.6h0M267.9 366.0h0M264.2 360.8h0M273.3 380.6h0M269.2 357.1h0M269.9 380.9h0M260.3 364.1h0M257.2 381.0h0M255.4 370.1h0M269.8 373.8h0M254.7 380.9h0M271.9 372.3h0M270.8 352.5h0M256.8 373.4h0M265.2 377.3h0M271.0 380.9h0M272.9 380.8h0M269.5 377.6h0M236.5 382.4h0M244.4 372.0h0M265.4 382.1h0M272.6 364.3h0M265.7 356.3h0M246.1 363.3h0M265.8 381.5h0M266.4 377.4h0M273.0 364.7h0M240.2 373.9h0M265.1 382.3h0M261.2 382.7h0M270.4 382.0h0M271.5 364.1h0M229.5 376.7h0M251.9 376.1h0M258.8 377.6h0M266.8 380.5h0M273.5 379.0h0M254.0 377.7h0M252.9 376.2h0M254.6 342.6h0M264.9 380.8h0M260.8 370.4h0M249.3 381.6h0M273.5 349.6h0M263.5 360.3h0M265.1 366.9h0M258.3 375.7h0M268.3 380.9h0M273.6 379.4h0M270.5 371.8h0M269.2 374.3h0M243.6 365.9h0M270.1 370.2h0M239.3 374.0h0M266.8 375.1h0M264.0 362.1h0M265.7 371.4h0M260.9 333.3h0M235.7 382.6h0M234.1 369.6h0M273.1 381.1h0M273.6 371.8h0M264.7 362.0h0M256.9 378.7h0M263.2 381.3h0M270.1 362.8h0M255.9 347.9h0M271.5 369.4h0M273.3 363.5h0M254.4 360.0h0M272.9 355.8h0M272.9 377.7h0M272.1 320.6h0M251.0 368.9h0M271.5 369.9h0M252.4 373.6h0M266.4 377.7h0M256.6 378.5h0M271.9 379.4h0M254.7 370.5h0M246.7 366.5h0M265.9 379.9h0M234.6 377.7h0M259.4 369.6h0M269.7 375.8h0M254.4 377.0h0M272.9 381.2h0M271.4 381.4h0M254.6 381.5h0M268.0 377.0h0M269.6 362.8h0M272.7 351.0h0M252.5 376.5h0M266.0 338.1h0M259.6 352.0h0M265.4 381.9h0M268.5 382.8h0M269.9 380.2h0M244.8 362.0h0M273.2 372.8h0M271.7 375.0h0M252.8 338.3h0M259.4 358.2h0M264.8 381.1h0M247.0 376.1h0M269.2 374.2h0M262.1 362.9h0M229.7 375.4h0M254.3 380.8h0M270.8 368.2h0M271.8 383.1h0M257.5 378.6h0M245.7 382.9h0M256.9 339.3h0M272.4 374.4h0M270.8 375.3h0M273.6 368.9h0M268.8 369.3h0M263.7 361.5h0M264.2 374.1h0M233.8 370.7h0M270.7 378.7h0M272.7 379.4h0M272.9 379.0h0M270.7 379.2h0M249.9 362.2h0M262.1 375.7h0M267.6 377.0h0M229.7 377.8h0M253.7 381.6h0M267.6 378.9h0M261.7 375.0h0M272.5 372.6h0M269.7 346.8h0M256.9 383.0h0M270.5 376.0h0M241.5 363.9h0M253.9 378.4h0M265.6 375.6h0M253.0 380.1h0M271.9 365.1h0M257.8 383.0h0M264.3 340.1h0M263.4 378.5h0M236.7 382.1h0M236.2 379.7h0M272.6 378.3h0M266.2 371.2h0" stroke="#d83048" stroke-width="1.30" stroke-linecap="round" fill="none"/>
<path d="M244.8 382.3h0M264.6 365.7h0M268.9 380.1h0M265.5 365.0h0M258.1 371.4h0M254.6 371.4h0M272.3 378.5h0M246.5 347.7h0M268.6 377.3h0M270.7 375.2h0M267.0 368.0h0M250.9 380.2h0M267.7 375.8h0M262.3 382.6h0M259.0 380.3h0M273.7 372.3h0M257.3 360.2h0M242.2 378.8h0M255.2 330.7h0M265.1 373.7h0M270.9 334.3h0M249.1 381.7h0M227.7 380.0h0M260.5 380.5h0M266.3 373.9h0M258.5 379.3h0M244.1 368.0h0M234.6 366.1h0M272.7 369.9h0M253.8 368.1h0M259.5 365.5h0M253.9 381.2h0M264.3 362.4h0M266.9 381.6h0M236.6 377.4h0M262.6 368.6h0M244.8 373.6h0M264.2 368.5h0M272.2 375.7h0M261.4 380.4h0M273.3 380.9h0M257.9 373.7h0M253.1 365.8h0M265.7 375.7h0M261.2 379.7h0M271.3 381.8h0M256.9 380.4h0M273.2 371.0h0M267.9 370.3h0M250.2 378.9h0M239.6 374.3h0M259.9 370.9h0M268.2 373.0h0M253.8 373.9h0M272.4 380.6h0M258.0 375.5h0M244.8 369.2h0M272.0 381.3h0M258.2 375.7h0M264.4 357.7h0M264.2 364.6h0M273.0 372.3h0M272.1 374.4h0M270.1 382.2h0M272.0 370.7h0M244.9 377.5h0M262.2 345.1h0M262.5 361.0h0M255.5 379.2h0M254.0 366.6h0M266.6 379.4h0M261.4 377.1h0M260.8 361.1h0M263.6 375.5h0M247.0 372.9h0M253.8 371.4h0M270.3 380.4h0M263.8 371.3h0M268.3 377.5h0M263.9 379.7h0M259.6 379.2h0M269.5 382.9h0M244.8 382.4h0M268.5 375.6h0M269.6 376.1h0M270.1 378.0h0M269.6 376.0h0M254.4 379.8h0M248.3 381.7h0M249.5 382.1h0M267.7 345.5h0M257.0 380.9h0M240.6 380.4h0M263.4 378.3h0M264.1 371.3h0M257.8 380.7h0M266.4 363.6h0M239.8 382.8h0M267.9 381.8h0M264.2 380.3h0M272.5 359.5h0M252.3 360.6h0M242.7 353.8h0M265.5 357.9h0M254.1 371.8h0M262.7 376.8h0M244.5 379.7h0M261.5 375.6h0M264.6 383.1h0M240.7 364.8h0M266.6 374.6h0M272.6 382.2h0M273.2 378.9h0M252.7 380.3h0M268.6 370.1h0M251.6 377.7h0M235.2 371.0h0M254.9 363.4h0M268.3 376.0h0M257.3 372.1h0M272.4 349.6h0M232.8 381.3h0M252.7 379.0h0M258.2 322.5h0M242.5 373.8h0M262.4 357.5h0M265.2 362.9h0M252.0 376.4h0M270.6 379.9h0M272.5 373.0h0M273.7 382.3h0M266.1 378.1h0M246.2 379.2h0M269.3 360.2h0M273.1 382.0h0M244.5 379.3h0M267.6 367.9h0M270.2 366.4h0M249.4 378.9h0M254.3 378.8h0M251.4 373.5h0M250.8 373.1h0M264.2 353.4h0M272.3 375.0h0M256.0 382.1h0M268.0 381.5h0M257.1 381.0h0M268.0 379.6h0M231.6 381.2h0M268.2 376.8h0M254.8 382.2h0M272.9 381.9h0M244.6 367.4h0M237.7 373.2h0M260.5 376.9h0M273.0 379.0h0M253.0 381.9h0M244.0 351.5h0M259.2 382.6h0M272.5 376.9h0M266.7 325.2h0M272.4 369.2h0M269.2 372.1h0M271.2 353.1h0M262.6 371.2h0M271.3 373.2h0M234.9 371.9h0M257.6 382.8h0M253.4 348.4h0M228.3 378.4h0M271.1 309.1h0M255.4 380.4h0M273.7 299.1h0M272.0 381.9h0M268.7 329.5h0M266.2 376.7h0M260.4 370.5h0M269.0 368.4h0M262.5 378.7h0M249.8 377.7h0M255.8 367.1h0M250.0 381.2h0M259.5 377.0h0M273.5 370.9h0M263.7 368.3h0M268.2 375.5h0M255.0 371.7h0M269.3 382.1h0M258.2 368.8h0M258.2 323.0h0M254.2 380.2h0M268.5 355.7h0M250.8 358.3h0M261.4 377.4h0M269.1 372.8h0M270.1 381.3h0M263.8 382.4h0M272.0 378.0h0M241.5 379.3h0M273.5 378.1h0M267.8 378.0h0M254.1 380.0h0M239.4 381.4h0M273.5 367.4h0M273.7 382.7h0M273.0 380.7h0M270.2 338.4h0M268.8 375.7h0M257.8 377.5h0M263.7 382.6h0M269.7 382.8h0M251.1 358.9h0M261.6 336.9h0M269.5 372.5h0M272.6 382.1h0M263.6 364.8h0M267.0 368.6h0M270.2 382.0h0M268.7 366.2h0M265.0 369.9h0M250.1 371.2h0M271.6 379.0h0M238.6 381.3h0M271.7 364.1h0M273.5 376.1h0M263.4 379.8h0M265.2 370.4h0M267.1 364.7h0M260.0 369.4h0M264.2 376.1h0M260.1 375.6h0M242.5 375.4h0M264.0 377.3h0M269.0 377.3h0M232.8 371.3h0M242.1 361.4h0M252.4 380.7h0M273.1 382.5h0M257.7 360.6h0M256.6 377.9h0M263.0 373.1h0M272.8 372.1h0M242.1 365.6h0M269.7 361.9h0M269.2 376.7h0M271.5 373.9h0M240.7 371.3h0M248.7 374.1h0M266.7 380.0h0M232.6 382.7h0M257.6 376.6h0M273.5 375.4h0M257.9 381.2h0M256.2 370.5h0M261.2 374.4h0M257.2 378.8h0M261.7 358.1h0M273.2 382.8h0M255.5 380.6h0M268.8 356.8h0M258.2 352.9h0M269.5 380.6h0M270.0 369.9h0M264.6 381.4h0M270.2 349.0h0M263.6 373.8h0M270.8 367.7h0M239.8 367.5h0M259.7 362.6h0M268.4 380.5h0M264.6 379.2h0M272.2 381.2h0M271.5 369.7h0M247.7 373.0h0M264.7 374.6h0M266.5 376.0h0M272.5 376.1h0M271.2 374.6h0M268.2 358.0h0M264.7 359.5h0M250.9 377.8h0M268.7 365.6h0M270.2 377.5h0M270.6 380.4h0M267.8 382.3h0M255.6 372.6h0M272.0 349.7h0M234.7 381.2h0M273.3 382.5h0M246.7 374.6h0M272.8 376.6h0M271.3 378.6h0M272.5 364.2h0M267.7 382.7h0M267.8 361.5h0M271.0 328.9h0M272.4 339.3h0M259.8 366.4h0M254.4 382.4h0M267.3 366.3h0M260.4 382.0h0M240.3 365.9h0M230.5 371.4h0M246.1 380.4h0M262.3 366.2h0M236.9 376.1h0M264.6 382.8h0M240.8 371.6h0M272.4 377.7h0M272.6 375.5h0M260.4 356.2h0M273.4 364.2h0M262.0 383.0h0M247.2 376.8h0M259.0 369.1h0M265.6 372.0h0M263.4 368.7h0M251.6 343.6h0M271.9 377.9h0M250.2 383.0h0M265.2 379.1h0M235.1 367.4h0M267.7 382.3h0M269.8 371.3h0M247.1 371.1h0M263.7 376.0h0M267.0 380.9h0M261.5 375.4h0M272.5 380.6h0M252.1 372.9h0M268.2 358.9h0M244.9 367.2h0M240.1 377.1h0M264.8 361.6h0M259.4 380.4h0M266.9 377.7h0M253.1 377.8h0M231.5 373.5h0M252.5 382.2h0M268.0 380.8h0M262.2 382.2h0M238.3 366.7h0M273.0 374.2h0M262.9 364.1h0M255.7 339.5h0M240.7 377.1h0M271.6 376.7h0M269.9 364.6h0M269.8 357.3h0M261.5 366.9h0M256.6 375.4h0M269.5 373.8h0M264.8 372.1h0M251.6 378.0h0M259.9 375.3h0M234.9 379.7h0M260.5 380.7h0M235.5 366.6h0M264.8 374.5h0M272.0 377.7h0M267.4 383.1h0M252.0 372.3h0M255.9 381.8h0M263.1 379.4h0M268.1 382.2h0M245.1 379.6h0M255.5 382.8h0M260.8 382.8h0M270.0 381.7h0M272.9 371.9h0M261.7 364.3h0M267.1 382.6h0M272.5 363.2h0M265.1 383.0h0M253.7 375.6h0M271.0 361.0h0M259.7 382.7h0M268.6 379.9h0M257.3 379.4h0M261.7 358.4h0M269.0 377.2h0M264.5 380.0h0M227.4 378.6h0M261.4 362.2h0M251.7 340.3h0M235.1 364.3h0M266.2 374.0h0M272.8 382.9h0M259.9 348.3h0M270.3 376.2h0M271.6 374.8h0M265.8 372.8h0M261.8 377.6h0M251.5 381.5h0M251.3 349.6h0M268.4 378.6h0M262.0 378.2h0M270.2 373.1h0M260.2 377.2h0M270.2 370.7h0M261.5 367.7h0M243.3 358.6h0M268.5 360.8h0M250.4 378.6h0M273.5 371.6h0M268.8 364.8h0M268.2 363.2h0M255.2 376.1h0M265.0 335.6h0M254.0 379.1h0M251.0 379.6h0M264.1 382.1h0M253.6 377.4h0M270.4 380.8h0M258.5 367.7h0M271.4 367.8h0M271.2 364.0h0M272.8 379.8h0M271.0 377.0h0M260.6 375.5h0M260.2 381.4h0M272.4 367.8h0M260.0 367.9h0M272.8 370.7h0M269.0 378.1h0M271.9 380.8h0M270.9 372.2h0M256.8 377.6h0M273.1 371.7h0M256.3 363.2h0M263.3 372.4h0M255.0 378.7h0M258.6 354.2h0M262.1 380.6h0M260.9 382.5h0M269.6 377.0h0M269.7 373.4h0M263.1 345.9h0M268.2 359.4h0M262.6 327.0h0M255.1 364.1h0M269.5 372.3h0M255.5 382.2h0M273.1 381.2h0M272.9 369.8h0M270.8 381.3h0M250.7 343.3h0M271.3 366.3h0M270.0 353.1h0M253.8 361.8h0M269.9 381.6h0M265.6 372.0h0M254.5 381.4h0M263.1 381.0h0M253.7 355.7h0M254.9 379.4h0M257.6 370.3h0M271.3 379.3h0M271.3 365.3h0M269.7 367.1h0M244.4 378.2h0M268.5 377.2h0M270.0 368.4h0M257.4 376.5h0M273.2 358.1h0M249.6 354.5h0M256.2 370.4h0M270.7 378.7h0M263.4 343.7h0M264.8 328.0h0M265.1 364.9h0M271.0 380.5h0M260.4 372.4h0M259.6 376.8h0M264.4 380.7h0M244.0 382.7h0M260.5 379.6h0M243.3 382.1h0M236.3 362.8h0M261.6 371.6h0M269.5 371.1h0M238.8 381.1h0M270.2 380.7h0M270.1 369.3h0M242.4 374.2h0M272.1 350.6h0M254.1 328.8h0" stroke="#c8102e" stroke-width="1.30" stroke-linecap="round" fill="none"/>
<path d="M255.6 353.4h0M265.9 374.7h0M266.2 382.5h0M263.3 362.0h0M263.7 371.9h0M264.6 367.9h0M265.9 369.2h0M271.6 375.8h0M272.9 366.2h0M251.6 363.8h0M251.8 378.6h0M267.5 381.6h0M270.3 360.9h0M272.0 377.3h0M252.0 378.1h0M251.7 382.8h0M270.6 382.6h0M266.5 378.5h0M261.0 348.7h0M270.9 372.3h0M257.4 381.4h0M242.2 379.1h0M266.5 380.4h0M271.4 379.3h0M255.5 373.4h0M246.3 364.5h0M268.1 374.1h0M260.7 377.2h0M254.6 381.0h0M252.4 359.8h0M258.0 377.7h0M254.3 362.4h0M266.1 371.8h0M268.5 382.5h0M263.9 351.4h0M263.1 370.1h0M262.0 375.5h0M249.5 354.9h0M270.4 363.7h0M254.8 329.0h0M269.5 376.1h0M260.6 372.2h0M272.3 352.0h0M249.7 338.4h0M240.4 381.8h0M260.7 362.5h0M266.9 380.6h0M269.5 380.5h0M227.0 379.6h0M270.1 365.8h0M269.5 379.4h0M262.4 383.0h0M225.4 381.1h0M250.3 371.3h0M255.6 362.0h0M272.4 376.3h0M228.4 379.3h0M268.6 382.4h0M239.9 377.7h0M271.5 355.2h0M249.5 368.3h0M228.3 377.6h0M237.9 368.3h0M273.4 369.3h0M243.4 366.5h0M251.9 381.2h0M267.9 377.4h0M243.1 378.8h0M271.6 374.6h0M269.2 382.9h0M252.8 381.2h0M271.4 372.9h0M266.3 365.5h0M254.7 379.4h0M272.7 381.7h0M252.4 358.9h0M269.5 382.8h0M267.4 378.9h0M261.4 383.0h0M265.3 376.2h0M248.8 374.8h0M257.9 375.9h0M266.8 380.1h0M257.8 383.1h0M245.4 375.8h0M267.3 366.2h0M261.4 381.9h0M268.8 372.8h0M265.4 382.8h0M259.2 376.9h0M271.9 380.5h0M254.3 356.3h0M273.2 360.0h0M264.9 357.0h0M272.1 334.2h0M251.8 377.6h0M255.4 336.7h0M263.3 341.0h0M264.3 382.3h0M270.7 362.4h0M249.8 359.3h0M265.5 361.7h0M247.5 379.5h0M272.3 376.5h0M267.5 380.9h0M266.5 378.8h0M262.4 334.1h0" stroke="#7e0f22" stroke-width="1.30" stroke-linecap="round" fill="none"/>
<path d="M262.2 358.5h0M265.1 382.2h0M271.2 382.7h0M255.1 380.9h0M273.6 357.9h0M250.1 380.2h0M264.0 376.8h0M251.3 381.5h0M248.2 359.9h0M246.1 373.8h0M267.7 382.0h0M267.3 380.6h0M273.3 370.3h0M271.9 382.1h0M271.4 373.6h0M272.9 380.7h0M261.0 323.9h0M268.0 365.8h0M269.8 383.0h0M264.8 367.9h0M270.0 381.9h0M273.3 380.4h0M250.3 365.4h0M271.1 379.4h0M265.3 375.3h0M255.7 360.9h0M266.0 380.8h0M268.2 380.4h0M269.9 373.4h0M271.5 381.3h0M261.5 381.9h0M233.1 376.1h0M270.9 358.7h0M270.6 375.7h0M263.3 369.1h0M267.9 310.1h0M244.1 361.0h0M266.6 381.6h0M266.9 362.2h0M267.7 377.8h0M261.6 380.1h0M261.3 371.3h0M266.3 380.0h0M273.1 377.6h0M267.2 375.6h0M256.7 376.5h0M248.2 370.7h0M261.4 366.0h0M258.5 348.5h0M269.2 379.2h0M251.1 379.3h0M272.1 373.4h0M259.4 373.3h0M263.9 358.2h0M263.2 382.8h0M265.5 379.7h0" stroke="#a00a22" stroke-width="1.30" stroke-linecap="round" fill="none"/>
<path d="M268.2 376.8h0M260.8 371.9h0M261.0 382.4h0M273.4 366.1h0M272.7 357.8h0M260.0 372.2h0M267.6 369.9h0M261.9 369.1h0M267.7 383.0h0M263.7 362.6h0M273.6 382.0h0M273.1 367.3h0M272.8 380.7h0M271.7 376.8h0M273.6 379.8h0M270.4 381.8h0M272.9 374.3h0M271.7 373.7h0M273.3 380.2h0M269.5 376.9h0M257.0 378.9h0M273.1 376.3h0M272.7 369.6h0M269.0 376.8h0M273.2 379.4h0M273.1 376.8h0M269.4 378.7h0M267.7 380.2h0M273.0 369.6h0M262.5 370.5h0M251.1 381.3h0M272.2 381.5h0M270.5 378.5h0M271.0 370.8h0M269.6 380.6h0M270.4 381.4h0M270.3 382.9h0M268.5 369.2h0M272.5 382.8h0M270.4 362.7h0M269.7 379.8h0M272.4 370.2h0M273.4 376.8h0M271.4 373.2h0M272.1 380.3h0M260.7 380.2h0M273.3 379.1h0M267.7 378.0h0M260.0 373.7h0M264.6 358.8h0M272.6 366.7h0M269.2 377.2h0M255.9 371.0h0M270.7 380.5h0M264.8 383.0h0M270.7 371.1h0M273.7 379.7h0M270.4 380.4h0M273.3 379.8h0M270.5 376.7h0M273.5 379.0h0M273.7 372.3h0M271.0 377.4h0M270.8 376.6h0M264.4 366.1h0M251.8 377.0h0M270.2 379.1h0M272.6 373.8h0M268.2 373.0h0M263.4 381.0h0M272.5 379.0h0M273.7 379.4h0M271.0 364.3h0M269.9 382.4h0M260.5 368.3h0M254.9 379.1h0M272.3 379.6h0M272.9 359.6h0M271.5 380.5h0M273.6 377.3h0M269.6 382.2h0M273.1 382.7h0M272.1 362.1h0M271.1 376.4h0M264.5 371.9h0M270.6 382.2h0M271.9 379.7h0M260.9 381.1h0M267.7 373.0h0M269.9 382.5h0M272.9 381.4h0M270.7 372.2h0M265.2 362.7h0M264.6 378.3h0M272.8 375.2h0M265.0 359.3h0M271.8 366.9h0M267.0 380.1h0M270.9 380.7h0M271.4 369.0h0M268.6 377.6h0M270.7 375.2h0M268.4 379.9h0M268.5 381.8h0M266.5 381.4h0M273.0 370.1h0M267.9 372.8h0M272.3 379.9h0M270.7 375.8h0M270.0 356.7h0M272.3 380.6h0M269.8 357.9h0M270.8 355.9h0M270.5 371.4h0M256.7 377.0h0M259.5 382.0h0M272.4 381.9h0M269.9 359.2h0M264.7 382.6h0M258.3 370.2h0M261.4 382.5h0M271.1 383.0h0M259.6 372.5h0M259.5 381.7h0M269.9 372.2h0M258.0 380.8h0M268.6 379.7h0M271.4 375.3h0M273.2 358.4h0M272.8 383.1h0M259.9 380.5h0M259.2 379.4h0M256.1 369.4h0M268.6 376.3h0M256.1 381.4h0M272.6 381.7h0M269.7 371.1h0M248.8 380.1h0M273.2 379.1h0M273.5 368.0h0M272.1 379.1h0M268.4 365.3h0M268.0 374.6h0M272.7 376.0h0M272.1 383.1h0M271.3 370.0h0M272.3 358.2h0M266.8 382.4h0M270.3 380.2h0M263.8 368.1h0M272.9 383.0h0M271.5 382.9h0M269.5 365.0h0M265.2 382.9h0M271.0 375.5h0M264.1 378.2h0M273.4 375.3h0M270.9 376.0h0M263.3 378.5h0M268.5 374.3h0M272.8 380.3h0M273.4 372.4h0M252.5 374.6h0M268.3 370.2h0M262.8 382.0h0M263.7 379.6h0M269.2 376.2h0M268.1 382.2h0M272.5 365.1h0M271.8 381.7h0M265.1 380.1h0M269.9 375.5h0M273.3 379.9h0M272.1 374.0h0M272.3 382.3h0M265.8 379.2h0M268.1 382.1h0M270.9 379.1h0M272.9 370.1h0M267.0 381.2h0M263.6 378.3h0M271.9 383.0h0M266.0 358.8h0M264.1 362.9h0M269.9 379.0h0M272.9 378.8h0M248.7 379.0h0M270.1 370.3h0M270.4 383.0h0M264.3 381.2h0M270.5 378.7h0M272.4 378.6h0M271.4 373.6h0M272.7 366.0h0M264.0 363.0h0M271.6 380.1h0M273.5 370.7h0M268.3 377.9h0M268.7 375.7h0M272.6 381.8h0M259.1 370.4h0M259.5 365.6h0M272.9 374.7h0M269.1 365.4h0M273.1 365.3h0M269.2 382.9h0M267.2 369.8h0M272.1 380.9h0M267.4 368.9h0M262.5 379.6h0M272.2 382.3h0M263.0 372.2h0M266.4 382.4h0M272.6 378.2h0M254.2 379.5h0M262.7 374.4h0M265.8 382.7h0M272.1 380.3h0M273.4 379.7h0M263.6 378.0h0M272.1 377.4h0M263.3 380.5h0M271.7 377.1h0M251.3 381.8h0M270.8 381.8h0M273.4 371.7h0M262.1 374.4h0M267.7 368.3h0M273.1 379.8h0M267.1 377.1h0M269.5 376.0h0M270.3 350.5h0M270.0 378.8h0M270.9 369.4h0M272.6 370.1h0M250.1 375.3h0M267.0 369.2h0M267.1 366.2h0M269.8 382.3h0M264.6 376.8h0M265.3 381.8h0M261.8 367.4h0M272.7 365.1h0M268.4 374.8h0M256.6 382.0h0M269.1 382.2h0M270.7 382.9h0M272.9 360.0h0M269.4 370.7h0M273.5 372.6h0M273.6 370.3h0M271.8 373.7h0M263.4 375.8h0M273.5 370.3h0M267.7 376.1h0M268.9 381.7h0M272.2 373.3h0M266.4 374.6h0M266.6 378.3h0M269.3 358.0h0M268.6 363.1h0M267.0 378.4h0" stroke="#d01428" stroke-width="1.40" stroke-linecap="round" fill="none"/>
<path d="M267.8 377.8h0M260.0 376.2h0M268.9 379.7h0M270.3 379.3h0M269.3 376.7h0M270.5 371.9h0M267.9 382.1h0M273.3 379.4h0M272.6 372.7h0M272.1 383.0h0M270.0 379.1h0M254.9 379.9h0M273.1 358.5h0M270.3 377.4h0M266.8 379.4h0M270.2 380.1h0M273.3 381.6h0M262.2 374.5h0M260.3 374.1h0M271.3 375.0h0M267.2 366.6h0M272.1 376.4h0M273.7 375.1h0M266.7 382.4h0M269.1 369.4h0M272.8 382.3h0M272.1 373.8h0M265.0 374.5h0M266.1 373.7h0M263.7 372.3h0M271.8 372.2h0M269.4 377.0h0M272.2 375.1h0M270.8 373.1h0M269.0 353.4h0M250.5 382.8h0M266.2 372.3h0M271.4 363.1h0M273.5 381.4h0M267.2 375.2h0M263.3 375.3h0M272.7 376.0h0M262.2 379.1h0M271.6 383.0h0M269.0 357.3h0M268.7 374.5h0M273.0 367.5h0M259.9 380.4h0M267.8 378.0h0M265.4 373.2h0M272.0 379.0h0M263.5 361.4h0M272.1 372.2h0M272.9 381.6h0M263.9 383.0h0M273.7 375.3h0M261.0 373.3h0M271.5 373.3h0M268.7 373.0h0M272.8 367.2h0M273.7 379.4h0M270.5 381.9h0M273.5 377.4h0M259.5 380.2h0M271.6 370.0h0M265.7 378.1h0M271.9 381.5h0M259.0 372.1h0M262.3 378.9h0M268.4 381.2h0M271.8 379.4h0M273.5 361.0h0M268.7 382.3h0M266.1 369.2h0M270.8 378.2h0M263.4 371.8h0M269.3 369.7h0M265.3 377.0h0M265.9 379.7h0M271.5 376.1h0M267.6 379.8h0M256.7 381.1h0M271.5 375.3h0M264.8 355.6h0M271.8 361.9h0M273.1 372.9h0M271.9 377.4h0M273.3 378.4h0M270.7 382.7h0M263.9 363.7h0M273.3 377.1h0M272.8 372.3h0M270.6 380.9h0M272.0 374.0h0M266.5 379.9h0M269.7 373.6h0M269.7 373.6h0M267.5 363.0h0M265.1 382.6h0M266.2 374.5h0M273.2 370.3h0M272.1 382.8h0M270.2 378.5h0M271.9 381.3h0M268.6 381.3h0M272.5 366.3h0M269.4 379.7h0M267.3 361.6h0M272.4 375.8h0M272.8 374.0h0M265.9 382.9h0M266.7 371.4h0M266.0 380.9h0M269.2 375.6h0M270.1 371.7h0M273.1 378.0h0M262.8 382.9h0M268.1 376.2h0M273.0 348.0h0M272.7 373.0h0M269.0 382.8h0M271.6 373.2h0M271.3 383.0h0M268.5 372.1h0M273.2 374.6h0M270.5 381.5h0M252.1 373.1h0M264.1 383.0h0M269.2 378.2h0M265.6 363.5h0M271.1 383.0h0M253.1 379.7h0M270.4 369.3h0" stroke="#c8102e" stroke-width="1.40" stroke-linecap="round" fill="none"/>
<path d="M273.1 379.7h0M265.1 381.4h0M261.0 379.1h0M272.3 378.4h0M272.1 347.8h0M267.5 378.3h0M266.8 378.2h0M259.8 382.7h0M270.7 375.3h0M270.4 373.4h0M272.2 381.7h0M253.2 382.8h0M270.5 380.2h0M271.1 376.8h0M272.4 374.1h0M271.6 369.7h0M270.1 378.7h0M273.6 380.8h0M266.9 380.6h0M271.7 383.0h0M273.5 378.7h0M265.6 381.7h0M266.8 381.5h0M263.5 370.5h0M271.7 373.6h0M267.2 374.5h0M259.7 378.5h0M267.0 372.6h0M268.3 376.2h0M262.6 381.2h0M268.0 376.3h0M269.4 379.4h0M263.5 369.1h0M266.2 380.1h0M267.5 383.0h0M264.2 382.9h0M269.5 380.2h0M268.1 362.8h0M264.4 360.7h0M267.0 364.7h0M271.2 380.3h0M272.6 378.0h0M268.5 382.6h0M264.4 382.4h0M272.5 381.0h0M273.1 368.2h0M269.2 382.9h0M272.8 357.6h0M269.2 371.7h0M260.8 378.5h0M248.1 381.3h0M264.8 361.1h0M268.9 362.0h0M258.9 371.6h0M270.2 382.1h0M270.2 367.1h0M270.7 383.1h0M273.5 382.4h0M271.6 380.5h0M271.5 381.7h0M271.8 368.0h0M271.2 373.7h0M265.2 370.2h0M272.8 378.1h0M272.7 382.3h0M269.7 381.6h0M270.7 365.2h0M273.5 378.7h0M257.5 372.2h0M262.9 380.9h0M271.0 379.4h0M272.9 378.2h0M268.6 383.1h0M265.9 381.8h0M272.8 376.7h0M263.2 370.3h0M272.1 378.3h0M269.6 379.3h0M263.3 374.7h0M268.7 357.1h0M269.4 354.6h0M266.7 368.5h0M272.7 383.0h0M263.0 374.8h0M263.4 374.6h0M271.5 381.8h0M268.4 381.2h0M271.5 376.9h0M268.4 382.0h0M270.4 383.0h0M269.6 371.5h0M271.7 381.6h0M269.2 377.3h0M269.3 381.2h0M269.3 374.8h0M271.4 359.4h0M268.5 374.6h0M269.4 382.8h0M267.8 381.3h0M257.9 368.7h0M264.3 376.4h0M272.5 380.3h0M272.4 370.5h0M273.3 382.8h0M273.1 367.3h0" stroke="#7e0f22" stroke-width="1.40" stroke-linecap="round" fill="none"/>
<path d="M308.5 360.4h0M312.7 374.7h0M327.5 382.8h0M316.7 376.9h0M305.7 369.3h0M314.7 383.1h0M310.1 381.3h0M298.0 378.1h0M304.8 381.5h0M301.0 375.1h0M308.7 367.2h0M303.9 359.8h0M304.3 376.4h0M305.2 372.7h0M297.2 371.6h0M306.4 364.9h0M300.6 373.1h0M299.2 381.2h0M304.1 382.5h0M297.7 375.7h0M303.3 372.1h0M325.1 372.7h0M298.3 378.4h0M300.0 356.7h0M308.5 374.6h0M299.8 383.0h0M302.5 362.0h0M300.6 381.7h0M313.3 379.1h0M297.3 381.4h0M332.3 379.2h0M320.5 365.9h0M302.4 367.0h0M298.6 355.8h0M300.1 369.5h0M301.2 377.4h0M318.6 374.7h0M299.3 362.2h0M302.4 375.7h0M320.3 375.4h0M310.4 379.4h0M298.5 371.6h0M302.8 379.5h0M318.7 362.1h0M319.3 370.7h0M326.3 379.2h0M314.3 382.6h0M310.7 370.1h0M319.5 370.6h0M322.4 366.5h0M298.8 374.0h0M299.1 363.7h0M313.0 382.4h0M331.7 382.5h0M300.8 355.5h0M316.0 371.9h0M298.5 360.4h0M307.8 363.9h0M308.9 372.3h0M301.8 362.2h0M297.3 339.4h0M305.3 353.0h0M297.5 357.2h0M300.5 381.7h0M298.9 380.8h0M318.3 370.6h0M304.2 377.0h0M299.6 368.2h0M304.9 371.5h0M307.2 365.5h0M298.5 379.6h0M314.1 383.1h0M301.6 373.7h0M321.9 379.6h0M299.2 375.4h0M314.4 355.0h0M300.4 379.3h0M319.2 382.3h0M302.4 381.2h0M311.6 375.4h0M304.9 370.2h0M311.8 381.3h0M305.3 370.6h0M304.6 379.9h0M302.6 374.7h0M317.2 380.4h0M304.0 380.7h0M310.5 378.3h0M322.2 377.5h0M320.4 378.1h0M318.4 371.3h0M297.8 366.6h0M298.3 370.7h0M329.7 355.9h0M303.7 380.8h0M299.5 371.5h0M313.5 325.8h0M307.0 378.1h0M298.4 363.8h0M317.6 374.6h0M304.8 365.4h0M310.4 379.5h0M328.9 378.0h0M298.2 312.7h0M299.7 382.4h0M299.3 370.5h0M314.4 377.5h0M298.5 369.5h0M308.0 376.8h0M299.1 382.9h0M317.6 376.5h0M304.5 382.7h0M306.1 358.8h0M299.1 376.7h0M316.5 378.6h0M302.6 372.9h0M300.2 372.4h0M330.3 382.9h0M299.9 378.3h0M319.8 382.2h0M324.5 375.2h0M298.5 372.2h0M321.9 373.0h0M300.7 377.4h0M299.0 371.6h0M299.8 374.9h0M301.6 378.2h0M315.6 374.9h0M317.0 366.5h0M299.5 382.6h0M316.3 357.0h0M309.7 370.7h0M326.6 379.5h0M323.4 382.8h0M308.0 378.5h0M317.9 381.7h0M308.5 372.9h0M299.1 380.4h0M307.8 328.9h0M310.2 379.6h0M339.7 379.2h0M301.6 380.2h0M313.8 381.7h0M300.8 376.7h0M307.8 369.2h0M306.5 381.7h0M324.1 380.1h0M297.7 379.8h0M315.1 381.5h0M299.4 374.4h0M309.4 380.8h0M331.9 380.9h0M297.9 380.3h0M324.0 377.8h0M317.0 375.5h0M307.6 332.2h0M297.4 364.9h0M298.9 378.3h0M329.2 367.9h0M307.4 382.4h0M328.3 381.5h0M318.3 366.2h0M300.6 376.5h0M311.0 355.5h0M299.0 368.5h0M303.0 364.1h0M305.5 375.3h0M312.7 379.5h0M308.3 364.5h0M304.8 371.9h0M318.0 351.1h0M311.5 371.1h0M334.3 367.4h0M317.4 366.4h0M326.9 370.7h0M309.2 382.7h0M297.8 377.2h0M317.8 380.6h0M298.2 378.4h0M300.0 362.4h0M312.4 382.3h0M320.2 381.3h0M299.0 358.6h0M300.6 375.4h0M306.0 373.8h0M297.4 373.9h0M310.3 381.1h0M305.3 373.2h0M304.3 377.0h0M306.1 378.1h0M328.3 377.9h0M297.8 378.8h0M315.9 382.6h0M327.7 378.7h0M309.3 380.7h0M314.6 378.8h0M297.9 379.3h0M319.1 362.8h0M320.0 380.3h0M305.7 361.1h0M307.8 377.5h0M320.3 372.2h0M298.9 380.0h0M309.1 382.2h0M297.6 382.2h0M297.2 380.9h0M301.7 364.8h0M302.5 356.8h0M338.1 381.6h0M304.0 367.2h0M298.9 376.2h0M305.7 375.8h0M299.6 381.8h0M298.9 373.9h0M305.5 374.3h0M302.8 368.3h0M305.9 370.8h0M298.2 362.5h0M300.1 370.1h0M310.1 377.9h0M305.3 378.3h0M297.3 367.1h0M305.1 371.8h0M322.4 380.5h0M308.5 377.6h0M328.8 369.4h0M300.6 378.9h0M305.1 379.8h0M306.2 381.8h0M305.5 377.0h0M335.6 375.7h0M315.5 382.0h0M298.5 379.1h0M340.3 377.1h0M298.0 372.5h0M301.7 381.8h0M304.4 375.7h0M305.5 377.8h0M298.7 378.2h0M310.2 379.6h0M297.6 362.9h0M328.6 378.4h0M304.2 380.9h0M310.0 364.9h0M315.9 372.0h0M305.8 374.2h0M307.6 382.7h0M313.9 381.9h0M298.9 382.0h0M325.9 372.4h0M318.0 378.3h0M299.8 370.9h0M315.2 378.8h0M317.3 382.0h0M301.1 380.8h0M310.1 374.6h0M299.6 349.6h0M311.6 350.9h0M301.1 380.5h0M300.1 359.3h0M306.0 376.0h0M303.4 375.9h0M302.2 362.5h0M316.3 381.0h0M323.1 382.6h0M316.2 381.6h0M315.3 380.6h0M308.1 367.3h0M316.2 370.7h0M314.5 382.9h0M320.5 375.6h0M303.3 368.0h0M309.4 367.0h0M320.8 380.4h0M310.0 381.4h0M297.8 368.9h0M300.1 366.3h0M302.1 366.6h0M301.8 367.8h0M322.8 372.0h0M306.5 379.0h0M313.7 381.6h0M301.3 351.7h0M332.9 373.9h0M302.6 382.7h0M314.0 369.5h0M301.4 376.7h0M298.2 381.9h0M324.6 378.2h0M298.8 361.4h0M308.2 376.4h0M298.4 372.0h0M316.3 378.5h0M298.9 375.8h0M300.3 376.3h0M303.5 376.2h0M298.3 362.7h0M311.9 379.5h0M326.8 379.3h0M300.7 382.0h0M299.6 377.1h0M322.5 375.8h0M298.0 379.4h0M312.1 382.8h0M310.7 375.8h0M312.7 380.6h0M313.6 378.5h0M307.3 355.4h0M322.6 359.1h0M319.1 380.9h0M308.3 375.8h0M298.5 377.2h0M312.9 379.7h0M298.2 360.7h0M310.5 377.2h0M310.8 378.5h0M322.8 372.6h0M299.0 382.6h0M303.4 375.6h0M313.6 347.0h0M335.6 364.1h0M321.0 375.5h0M297.4 380.9h0M312.9 379.7h0M301.3 368.0h0M301.8 373.3h0M306.2 373.8h0M340.1 382.6h0M306.8 369.3h0M303.4 369.8h0M303.8 381.3h0M317.7 376.0h0M315.9 377.7h0M300.4 361.1h0M303.5 379.6h0M301.7 382.8h0M305.8 376.3h0M299.4 376.2h0M301.3 377.5h0M303.6 379.5h0M299.8 356.4h0M307.5 382.4h0M298.6 379.3h0M313.9 382.1h0M323.9 360.3h0M300.9 378.7h0M305.6 371.5h0M301.3 372.1h0M311.2 375.3h0M298.8 351.2h0M306.5 380.4h0M297.6 359.6h0M298.1 379.0h0M308.9 375.7h0M303.7 342.1h0M300.2 364.6h0M298.3 377.0h0M309.7 377.0h0M305.7 362.2h0M300.3 367.9h0M302.5 378.7h0M317.2 382.3h0M317.5 348.7h0M320.4 371.8h0M303.8 375.5h0M299.6 361.0h0M326.2 379.0h0M307.9 378.3h0M336.9 377.1h0M305.9 376.1h0M300.1 382.4h0M310.4 369.6h0M313.2 379.8h0M331.5 375.2h0M335.5 378.2h0M301.4 380.5h0M309.8 379.7h0M297.6 377.8h0M311.2 373.7h0M332.7 370.9h0M307.1 374.4h0M298.3 374.1h0M311.6 373.6h0M299.9 382.8h0M299.1 382.1h0M301.5 353.5h0M320.2 371.2h0M309.3 377.9h0M298.8 382.4h0M305.7 326.4h0M302.3 378.5h0M297.7 373.8h0M303.3 366.2h0M306.9 327.2h0M300.2 375.9h0M298.4 369.4h0M310.1 379.8h0M302.1 371.2h0M329.2 380.0h0M299.9 333.5h0M302.5 375.7h0M334.7 375.2h0M329.3 373.6h0M329.4 383.0h0M305.5 365.4h0M301.9 326.6h0M316.5 380.8h0M303.1 379.9h0M332.1 374.0h0M310.0 381.2h0M302.8 382.3h0M298.5 375.1h0M313.1 381.3h0M324.9 381.3h0M306.5 373.5h0M305.1 372.4h0M301.5 380.0h0M320.4 363.8h0M309.2 360.7h0M314.8 376.9h0M312.6 380.0h0M311.3 370.9h0M316.0 381.0h0M298.7 377.3h0M325.1 380.9h0M309.9 381.7h0M311.8 366.0h0M299.8 382.2h0M309.8 368.7h0M303.0 370.2h0M322.2 382.7h0M300.5 381.5h0M339.8 372.1h0" stroke="#c8102e" stroke-width="1.30" stroke-linecap="round" fill="none"/>
<path d="M301.7 381.2h0M310.7 374.1h0M316.5 375.4h0M300.2 363.9h0M303.3 373.0h0M309.8 377.5h0M299.9 367.1h0M304.4 367.8h0M331.4 364.9h0M333.1 378.5h0M312.6 374.7h0M300.4 362.9h0M301.7 359.2h0M298.9 381.3h0M298.5 382.3h0M322.0 374.6h0M307.7 382.8h0M323.0 377.7h0M306.4 366.6h0M326.7 377.8h0M298.2 377.4h0M316.6 366.4h0M331.2 378.1h0M343.9 375.1h0M320.4 381.2h0M305.1 368.8h0M297.5 376.4h0M323.8 376.2h0M306.7 375.1h0M302.8 379.7h0M298.0 383.1h0M299.4 382.2h0M298.8 382.5h0M297.9 376.3h0M297.6 380.8h0M328.7 379.7h0M297.5 378.8h0M298.1 371.7h0M310.0 378.3h0M324.9 360.3h0M302.5 375.9h0M337.1 379.8h0M314.5 379.0h0M301.2 359.7h0M309.1 375.2h0M301.8 363.2h0M328.1 378.6h0M305.3 380.9h0M298.5 370.5h0M312.8 375.1h0M317.7 376.8h0M308.6 379.9h0M303.1 379.6h0M314.3 367.0h0M305.4 372.8h0M331.0 375.3h0M299.7 377.6h0M298.2 381.7h0M299.6 382.0h0M307.2 382.6h0M309.8 382.3h0M303.2 373.5h0M298.5 370.6h0M300.3 379.9h0M299.8 373.0h0M314.1 378.6h0M300.7 379.9h0M299.3 363.2h0M318.3 374.5h0M297.4 359.4h0M300.7 374.0h0M308.8 362.9h0M315.7 382.7h0M304.4 371.7h0M321.3 376.8h0M302.1 382.7h0M298.4 378.8h0M312.2 378.5h0M331.3 371.6h0M309.6 367.3h0M307.2 379.8h0M314.2 382.2h0M332.7 360.7h0M330.4 373.1h0M307.7 378.2h0M297.9 380.8h0M306.0 378.7h0M325.8 379.1h0M310.4 378.3h0M320.4 372.7h0M305.1 359.4h0M305.7 378.3h0M330.6 382.3h0M306.4 380.6h0M320.5 380.0h0M308.7 370.2h0M307.9 379.6h0M298.2 382.9h0M298.0 373.2h0M307.8 376.7h0M298.1 359.0h0M308.8 377.6h0M310.3 372.0h0M308.1 381.8h0" stroke="#7e0f22" stroke-width="1.30" stroke-linecap="round" fill="none"/>
<path d="M298.3 377.6h0M300.2 373.0h0M318.9 374.3h0M297.6 378.0h0M324.7 371.6h0M303.0 375.4h0M303.8 371.1h0M300.3 347.7h0M325.6 362.2h0M298.3 370.5h0M302.9 379.2h0M314.6 360.5h0M318.8 376.2h0M301.4 374.4h0M304.6 380.7h0M298.2 381.0h0M317.5 378.1h0M308.8 379.5h0M316.0 377.6h0M298.4 381.3h0M312.8 373.4h0M319.4 356.2h0M303.9 377.0h0M314.4 375.8h0M299.4 370.0h0M310.9 369.8h0M307.3 377.1h0M319.4 368.7h0M299.9 371.2h0M297.9 379.5h0M304.4 379.7h0M303.7 365.0h0M305.0 375.4h0M321.3 380.7h0M297.3 373.0h0M301.0 360.2h0M300.7 353.7h0M298.3 380.3h0M297.4 371.9h0M324.1 352.8h0M324.6 373.3h0M302.6 368.7h0M342.2 376.3h0M303.8 379.1h0M314.1 365.0h0M298.3 372.0h0M314.0 370.5h0M306.2 346.4h0M314.0 382.5h0M313.2 382.7h0M304.9 369.6h0M298.2 357.0h0M314.6 362.6h0M324.4 373.3h0M329.2 366.8h0M312.8 380.2h0M312.4 381.7h0M331.1 380.5h0M303.9 377.8h0M301.0 362.4h0M305.0 380.8h0M319.4 374.9h0M304.2 381.5h0M301.4 380.6h0M298.7 382.5h0M303.3 330.4h0M326.3 358.1h0M316.9 382.5h0M306.4 380.9h0M312.5 358.7h0M315.0 368.5h0M322.8 373.3h0M317.3 365.8h0M305.3 378.2h0M298.6 380.2h0M323.5 377.7h0M302.4 377.8h0M305.5 372.4h0M300.7 382.4h0M306.4 382.7h0M307.4 361.9h0M314.4 378.1h0M307.9 376.1h0M301.0 365.2h0M319.4 375.2h0M322.5 371.2h0M298.2 377.3h0M330.1 383.1h0M308.1 375.8h0M298.8 350.6h0M302.6 373.2h0M305.5 370.2h0M320.6 380.4h0M300.2 379.7h0M314.0 370.4h0M331.8 369.8h0M299.7 374.0h0M299.2 378.0h0M307.7 352.7h0M303.6 357.9h0M297.9 375.8h0M334.2 360.1h0M300.7 376.4h0M304.2 313.1h0M303.7 365.3h0M323.7 361.0h0M300.6 379.3h0M322.6 377.2h0M297.8 349.2h0M298.0 381.4h0M326.9 353.9h0M303.5 360.0h0M306.4 375.6h0M318.6 375.9h0M311.9 374.2h0M302.4 377.1h0M304.0 376.0h0M321.7 382.3h0M311.6 348.2h0M306.0 380.8h0M301.4 378.7h0M324.0 369.6h0M308.5 380.4h0M334.0 382.5h0M298.0 381.7h0M307.2 380.6h0M302.5 358.8h0M307.2 379.5h0M299.8 373.1h0M302.0 377.2h0M298.2 379.3h0M313.2 368.7h0M303.1 357.4h0M318.8 368.8h0M297.6 375.9h0M302.5 379.0h0M344.2 377.4h0M315.4 360.0h0M320.3 376.0h0M332.6 374.9h0M303.0 381.5h0M304.5 380.2h0M324.7 362.8h0M311.4 376.1h0M313.5 367.1h0M306.7 381.5h0M300.8 380.5h0M330.7 376.3h0M323.3 364.3h0M302.4 353.5h0M303.4 383.0h0M305.1 370.5h0M299.3 379.3h0M307.6 379.2h0M337.1 376.8h0M309.1 368.6h0M312.8 324.4h0M310.2 371.4h0M328.9 382.6h0M326.0 380.2h0M320.5 352.6h0M307.1 351.8h0M308.1 375.9h0M298.6 378.3h0M300.4 381.5h0M303.9 383.0h0M313.3 380.1h0M344.3 380.5h0M302.1 379.3h0M298.2 373.5h0M338.2 381.3h0M297.3 367.0h0M311.1 378.3h0M323.9 378.5h0M298.6 375.8h0M311.1 380.2h0M304.4 378.1h0M307.2 379.2h0M302.0 368.6h0M307.6 368.6h0M300.6 381.5h0M300.2 381.3h0M334.5 370.0h0M304.7 377.1h0M308.2 375.3h0M313.8 373.6h0M299.4 380.4h0M299.8 378.4h0M326.2 376.7h0M299.3 377.3h0M309.3 382.7h0M308.7 360.4h0M306.9 376.6h0M304.2 373.1h0M309.4 377.9h0M301.9 366.9h0M299.1 381.6h0M302.3 368.6h0M298.4 372.2h0M302.6 383.0h0M305.4 380.1h0M320.3 366.8h0M299.3 381.1h0M306.4 373.4h0M303.9 359.3h0M302.5 377.7h0M306.6 375.0h0M323.8 374.5h0M301.4 382.5h0M311.8 367.0h0M309.3 373.2h0M298.6 377.3h0M297.2 382.8h0M306.1 380.6h0M317.5 372.3h0M301.4 382.8h0M300.9 376.9h0M305.0 381.9h0M297.2 377.3h0M307.4 369.4h0M310.7 364.2h0M323.5 375.4h0M300.1 378.0h0M306.2 375.8h0M310.4 379.3h0M303.0 381.9h0M298.2 377.2h0M305.9 382.0h0M307.4 376.9h0M297.6 378.0h0M311.7 367.9h0M320.7 369.0h0M306.7 371.4h0M298.7 376.4h0M298.2 381.4h0M323.2 355.5h0M302.1 375.1h0M300.2 355.5h0M299.7 369.2h0M327.1 370.3h0M298.9 377.3h0M303.8 377.0h0M301.2 371.5h0M297.3 374.2h0M304.0 381.4h0M316.7 374.9h0M323.8 380.8h0M307.6 379.7h0M315.6 371.2h0M304.2 381.8h0M308.4 380.0h0M298.1 365.6h0M299.6 316.6h0" stroke="#d83048" stroke-width="1.30" stroke-linecap="round" fill="none"/>
<path d="M302.6 381.8h0M317.7 382.2h0M309.3 380.0h0M316.2 381.0h0M305.8 376.3h0M323.8 376.9h0M312.7 382.3h0M301.8 382.0h0M304.3 369.0h0M317.4 377.3h0M319.4 381.6h0M315.5 374.9h0M337.4 368.3h0M306.0 383.0h0M318.9 382.6h0M299.9 383.1h0M308.6 382.3h0M308.6 382.5h0M324.4 368.7h0M323.3 370.4h0M307.0 365.6h0M302.5 381.0h0M331.9 378.6h0M311.2 375.3h0M311.7 352.9h0M299.5 379.6h0M307.6 320.8h0M313.2 376.8h0M339.9 373.8h0M310.2 379.9h0M300.6 354.6h0M299.9 349.1h0M313.7 367.3h0M300.4 375.6h0M323.5 373.7h0M298.9 376.1h0M302.2 382.9h0M299.4 377.6h0M316.8 365.8h0M304.1 381.7h0M304.2 372.2h0M297.9 366.5h0M301.8 371.2h0M309.9 383.0h0M318.2 379.7h0M310.2 375.8h0M304.1 378.8h0M297.6 379.9h0M313.8 362.8h0M299.9 378.6h0M299.1 372.9h0M305.1 379.3h0M297.8 381.0h0M309.7 383.1h0M300.2 382.1h0M315.9 367.4h0M321.8 381.4h0M316.9 381.1h0M307.2 381.6h0M311.9 377.7h0" stroke="#a00a22" stroke-width="1.30" stroke-linecap="round" fill="none"/>
<path d="M303.1 382.4h0M327.8 382.2h0M301.8 382.1h0M301.2 378.1h0M305.1 379.2h0M308.9 376.0h0M298.0 382.2h0M301.2 374.4h0M306.2 379.9h0M316.8 373.3h0M299.2 361.5h0M302.5 375.1h0M319.9 373.8h0M312.4 380.9h0M302.0 378.0h0M301.3 382.4h0M298.4 381.3h0M302.5 378.2h0M305.4 376.2h0M299.1 380.3h0M300.3 376.0h0M300.9 381.5h0M306.7 382.2h0M297.9 378.9h0M308.1 383.0h0M302.2 371.1h0M310.0 376.6h0M302.4 378.4h0M298.7 381.7h0M300.6 380.5h0M300.8 378.6h0M308.8 367.8h0M309.0 383.0h0M303.6 377.2h0M305.7 380.4h0M299.0 375.9h0M299.4 370.3h0M300.1 382.3h0M299.5 368.3h0M314.1 380.0h0M297.7 380.1h0M298.9 377.2h0M298.3 377.6h0M297.8 377.3h0M303.0 372.4h0M314.5 366.1h0M312.2 382.1h0M305.7 368.8h0M302.9 376.6h0M298.8 370.5h0M298.4 374.6h0M309.5 368.9h0M304.7 364.1h0M298.0 370.6h0M303.6 360.2h0M302.0 379.3h0M302.7 367.4h0M302.1 381.8h0M313.4 382.9h0M297.7 383.0h0M299.3 377.2h0M298.6 376.7h0M328.8 382.4h0M322.5 378.9h0M312.0 372.7h0M300.3 366.3h0M309.7 373.7h0M319.5 378.2h0M297.6 371.7h0M321.1 383.0h0M312.3 377.2h0M303.9 377.8h0M298.1 371.0h0M302.7 379.7h0M303.5 382.2h0M303.9 380.3h0M310.0 375.8h0M313.1 381.3h0M298.8 381.5h0M311.9 373.4h0M313.5 368.4h0M300.4 379.6h0M300.2 381.5h0M303.5 380.0h0M319.8 378.1h0M303.2 371.9h0M306.0 372.6h0M307.9 371.2h0M317.9 379.9h0M297.7 363.2h0M300.8 376.2h0M309.2 363.2h0M307.7 366.7h0M304.2 379.1h0M306.1 379.6h0M297.6 382.9h0M300.4 372.1h0M308.0 378.9h0M298.7 378.0h0M302.8 381.5h0M309.5 366.2h0M301.2 377.4h0M322.6 375.9h0M301.2 381.2h0" stroke="#7e0f22" stroke-width="1.40" stroke-linecap="round" fill="none"/>
<path d="M298.4 373.6h0M304.0 361.1h0M321.1 378.2h0M304.8 382.6h0M298.0 379.9h0M303.9 381.4h0M298.1 374.1h0M312.5 378.7h0M297.6 381.6h0M304.4 374.9h0M318.7 375.5h0M308.0 378.7h0M300.1 365.1h0M300.5 378.6h0M302.0 377.0h0M304.6 366.2h0M312.7 381.6h0M305.7 381.2h0M328.3 381.1h0M304.7 367.5h0M304.1 380.6h0M309.7 381.7h0M302.3 367.7h0M304.8 375.3h0M298.0 381.1h0M301.8 376.8h0M308.3 376.8h0M309.5 377.5h0M300.7 380.4h0M314.9 382.5h0M298.3 382.2h0M298.6 358.1h0M301.5 382.0h0M300.7 379.5h0M307.8 371.9h0M320.5 376.3h0M304.9 378.8h0M304.7 370.9h0M310.1 379.4h0M298.2 363.1h0M302.8 382.6h0M305.5 378.5h0M306.0 380.8h0M303.7 378.3h0M302.0 380.9h0M297.4 381.0h0M300.4 377.0h0M297.5 381.6h0M308.3 379.2h0M297.8 370.8h0M300.1 371.0h0M303.1 382.0h0M302.2 369.6h0M299.3 381.7h0M320.9 381.8h0M305.1 371.1h0M300.9 376.1h0M299.5 381.7h0M302.9 379.1h0M305.9 376.9h0M300.1 368.0h0M298.5 377.7h0M307.3 379.9h0M303.7 379.8h0M307.6 376.1h0M303.3 369.8h0M303.0 373.2h0M302.3 377.2h0M303.6 371.6h0M298.6 379.7h0M306.3 380.7h0M304.9 377.4h0M305.1 370.3h0M299.7 378.1h0M300.7 377.5h0M314.5 375.1h0M311.1 375.3h0M298.4 365.8h0M303.3 367.0h0M297.3 380.5h0M304.0 382.4h0M302.4 369.7h0M297.9 364.0h0M323.8 382.9h0M306.8 375.5h0M297.4 374.4h0M299.4 380.2h0M308.9 369.5h0M305.0 382.3h0M299.7 379.3h0M301.9 380.3h0M297.6 380.6h0M317.5 381.6h0M298.6 367.1h0M306.9 380.9h0M305.1 380.9h0M309.0 376.7h0M306.6 383.1h0M298.7 379.6h0M298.1 368.4h0M297.8 381.9h0M303.3 383.0h0M304.7 380.1h0M297.9 381.0h0M302.2 376.7h0M308.1 374.1h0M299.6 370.0h0M305.7 379.6h0M298.7 378.9h0M301.2 380.7h0M298.5 378.0h0M305.0 369.7h0M301.7 377.5h0M310.9 379.9h0M303.3 382.0h0M299.9 382.7h0M304.2 381.5h0M303.4 374.9h0M305.7 373.0h0M299.1 378.5h0M301.7 376.0h0M319.9 383.0h0M301.1 377.5h0M321.8 374.8h0M299.2 365.4h0M306.9 377.0h0M312.5 381.2h0M297.8 379.4h0M307.4 363.9h0M297.7 380.6h0M299.4 383.0h0M307.7 379.1h0M311.8 382.6h0M298.2 367.9h0M315.1 382.9h0M305.7 377.5h0M302.9 377.3h0M297.5 381.8h0M303.3 382.2h0M313.8 365.4h0M309.4 365.9h0M303.2 368.1h0M311.7 381.6h0M297.9 380.3h0M301.3 380.3h0M298.2 382.4h0M298.2 368.4h0M299.1 382.6h0M304.8 377.6h0M303.3 379.5h0M300.4 377.4h0M299.8 380.0h0M299.1 379.1h0M299.6 376.4h0M297.3 379.2h0M300.6 380.3h0M308.7 380.0h0M303.4 379.9h0M305.5 369.3h0M300.6 376.7h0M305.7 378.3h0M314.2 377.5h0M310.9 372.6h0M308.6 380.0h0M309.4 379.1h0M307.0 371.8h0M300.8 382.8h0M300.0 375.4h0M306.2 366.4h0M310.0 381.1h0M302.3 382.4h0M312.0 381.9h0M300.5 375.4h0M298.6 379.4h0M300.4 380.9h0M298.9 373.8h0M315.4 376.8h0M307.1 370.5h0M312.4 382.8h0M298.8 370.3h0M303.4 373.0h0M297.7 372.9h0M300.2 378.7h0M297.8 366.0h0M303.8 375.2h0M301.9 378.9h0M302.2 379.8h0M297.6 374.3h0M306.9 380.6h0M322.6 378.6h0M300.8 368.8h0M308.2 381.6h0M301.6 370.3h0M298.0 377.6h0M297.8 369.9h0M304.2 375.1h0M304.9 370.7h0M309.8 379.7h0M298.5 355.0h0M298.2 378.8h0M301.4 380.9h0M298.6 376.3h0M306.6 381.2h0M306.5 378.6h0M298.9 382.1h0M298.9 369.9h0M304.0 359.8h0M299.8 382.9h0M317.1 382.2h0M302.9 375.5h0M302.2 367.0h0M313.5 382.6h0M308.6 383.0h0M312.4 380.3h0M304.7 381.6h0M313.6 381.7h0M300.8 375.4h0M297.6 382.4h0M298.5 379.3h0M302.5 376.8h0M300.1 376.0h0M305.8 379.8h0M312.2 383.0h0M297.8 383.0h0M297.8 382.9h0M304.2 381.3h0M299.8 375.1h0M300.8 376.7h0M303.1 377.4h0M306.9 381.7h0M312.8 380.6h0M297.4 379.0h0M307.7 380.0h0M307.2 380.8h0M299.8 373.5h0M305.8 379.5h0M298.2 377.2h0M309.6 379.7h0M298.5 375.2h0M299.5 374.6h0M310.6 382.3h0M305.1 382.6h0M299.3 382.8h0M298.0 380.0h0M300.6 382.7h0M319.5 371.7h0M299.7 375.9h0M311.5 380.2h0M300.1 372.3h0M298.6 382.3h0M299.0 364.9h0M298.2 372.0h0M315.5 370.7h0M300.1 382.3h0M319.0 370.6h0M300.5 372.0h0M297.7 382.2h0M300.8 372.8h0M303.3 382.9h0M298.9 374.4h0M299.7 378.6h0M309.4 361.3h0M309.5 379.6h0M308.5 359.7h0M299.6 380.6h0M316.0 382.6h0M313.8 383.0h0M299.7 380.4h0M300.9 374.0h0M298.1 367.6h0M299.7 379.6h0M305.6 379.6h0M298.7 373.1h0M302.1 380.7h0M299.2 367.9h0M300.3 377.9h0" stroke="#d01428" stroke-width="1.40" stroke-linecap="round" fill="none"/>
<path d="M298.0 368.6h0M307.1 367.4h0M308.9 381.7h0M299.2 380.4h0M298.0 374.7h0M297.6 375.1h0M298.7 381.9h0M306.3 366.7h0M305.3 371.9h0M304.3 368.7h0M309.1 375.6h0M297.7 380.0h0M305.2 374.4h0M316.1 379.0h0M301.4 381.3h0M307.6 381.0h0M315.2 382.0h0M304.4 381.7h0M298.1 372.8h0M297.5 377.0h0M301.3 369.7h0M303.6 376.7h0M302.7 380.0h0M297.2 373.9h0M318.3 381.4h0M299.8 372.7h0M299.7 377.4h0M299.4 379.6h0M300.1 382.8h0M303.7 381.6h0M304.1 367.2h0M307.8 382.7h0M304.1 374.4h0M301.0 372.9h0M301.3 377.0h0M300.5 382.5h0M301.3 380.0h0M299.4 382.5h0M307.3 379.2h0M306.9 371.0h0M299.6 362.9h0M307.6 376.8h0M298.2 375.2h0M299.9 370.5h0M302.4 369.4h0M301.5 381.2h0M303.6 383.0h0M305.2 382.6h0M297.7 380.8h0M312.6 378.7h0M297.3 380.5h0M297.4 379.3h0M297.6 375.7h0M297.3 371.7h0M297.4 357.1h0M300.2 382.0h0M304.5 378.9h0M297.2 378.1h0M299.2 353.4h0M311.0 380.3h0M298.4 366.4h0M303.5 379.8h0M308.8 369.5h0M306.0 368.2h0M307.7 375.3h0M302.5 380.0h0M311.0 365.9h0M301.7 379.6h0M299.5 379.3h0M301.2 382.7h0M299.9 382.5h0M299.1 379.7h0M297.4 380.7h0M308.2 381.4h0M304.0 378.1h0M297.9 382.9h0M313.8 378.5h0M302.2 378.2h0M298.6 378.4h0M305.4 379.7h0M311.1 382.9h0M304.5 372.1h0M308.0 377.0h0M299.0 379.9h0M310.9 382.6h0M298.4 376.0h0M302.8 381.7h0M300.8 375.1h0M298.6 369.4h0M304.7 381.9h0M312.0 380.3h0M306.8 382.1h0M308.1 368.0h0M297.8 367.9h0M301.7 373.7h0M307.9 378.1h0M301.9 382.5h0M298.8 374.8h0M311.8 379.1h0M299.9 383.0h0M302.5 377.4h0M300.1 379.3h0M304.3 370.7h0M313.4 377.6h0M297.8 374.1h0M306.7 371.6h0M304.6 372.1h0M298.4 374.1h0M301.1 380.6h0M301.3 364.6h0M301.5 377.1h0M300.9 366.2h0M297.3 378.1h0M298.7 378.4h0M301.7 369.1h0M301.5 376.3h0M308.1 381.5h0M302.9 377.6h0M304.0 377.3h0M304.5 368.7h0" stroke="#c8102e" stroke-width="1.40" stroke-linecap="round" fill="none"/>
<path d="M268.0 270.0h0M268.0 281.0h0M270.0 298.0h0M272.0 302.0h0M270.0 307.0h0M268.0 311.0h0M272.0 314.0h0M271.0 318.0h0M251.0 313.0h0M263.0 310.0h0M267.0 324.0h0M269.0 320.0h0M274.0 322.0h0M265.0 328.0h0M266.0 329.0h0M270.0 333.0h0M254.0 330.0h0M258.0 335.0h0M262.0 339.0h0M247.0 340.0h0M250.0 344.0h0M240.0 347.0h0M236.0 350.0h0M233.0 356.0h0M229.0 362.0h0M228.0 367.0h0M224.0 369.0h0M314.0 283.0h0M321.0 291.0h0M306.0 301.0h0M315.0 308.0h0M334.0 317.0h0M304.0 322.0h0M307.0 328.0h0M314.0 325.0h0M320.0 331.0h0M330.0 325.0h0M338.0 345.0h0M312.0 340.0h0M324.0 338.0h0M341.0 351.0h0M333.0 352.0h0M345.0 355.0h0M329.0 360.0h0M339.0 364.0h0" stroke="#9a1030" stroke-width="1.40" stroke-linecap="round" fill="none"/>
<line x1="274.50" y1="264.50" x2="274.50" y2="388.00" stroke="#444" stroke-width="0.8"/>
<line x1="296.30" y1="264.50" x2="296.30" y2="388.00" stroke="#444" stroke-width="0.8"/>
<line x1="220.80" y1="383.10" x2="348.70" y2="383.10" stroke="#444" stroke-width="0.8"/>
<rect x="220.80" y="264.50" width="127.90" height="123.50" fill="none" stroke="#2a2a2a" stroke-width="1.3"/>
<line x1="218.20" y1="270.60" x2="220.80" y2="270.60" stroke="#262626" stroke-width="0.8"/>
<text x="214.70" y="273.08" font-size="6.9" text-anchor="end" textLength="10.59" lengthAdjust="spacingAndGlyphs">250</text>
<line x1="218.20" y1="293.10" x2="220.80" y2="293.10" stroke="#262626" stroke-width="0.8"/>
<text x="214.70" y="295.58" font-size="6.9" text-anchor="end" textLength="10.59" lengthAdjust="spacingAndGlyphs">200</text>
<line x1="218.20" y1="315.60" x2="220.80" y2="315.60" stroke="#262626" stroke-width="0.8"/>
<text x="214.70" y="318.08" font-size="6.9" text-anchor="end" textLength="10.59" lengthAdjust="spacingAndGlyphs">150</text>
<line x1="218.20" y1="338.10" x2="220.80" y2="338.10" stroke="#262626" stroke-width="0.8"/>
<text x="214.70" y="340.58" font-size="6.9" text-anchor="end" textLength="10.59" lengthAdjust="spacingAndGlyphs">100</text>
<line x1="218.20" y1="360.60" x2="220.80" y2="360.60" stroke="#262626" stroke-width="0.8"/>
<text x="214.70" y="363.08" font-size="6.9" text-anchor="end" textLength="7.06" lengthAdjust="spacingAndGlyphs">50</text>
<line x1="218.20" y1="383.10" x2="220.80" y2="383.10" stroke="#262626" stroke-width="0.8"/>
<text x="214.70" y="385.58" font-size="6.9" text-anchor="end" textLength="3.53" lengthAdjust="spacingAndGlyphs">0</text>
<line x1="219.30" y1="281.85" x2="220.80" y2="281.85" stroke="#262626" stroke-width="0.7"/>
<line x1="219.30" y1="304.35" x2="220.80" y2="304.35" stroke="#262626" stroke-width="0.7"/>
<line x1="219.30" y1="326.85" x2="220.80" y2="326.85" stroke="#262626" stroke-width="0.7"/>
<line x1="219.30" y1="349.35" x2="220.80" y2="349.35" stroke="#262626" stroke-width="0.7"/>
<line x1="219.30" y1="371.85" x2="220.80" y2="371.85" stroke="#262626" stroke-width="0.7"/>
<line x1="230.50" y1="388.00" x2="230.50" y2="391.00" stroke="#262626" stroke-width="0.8"/>
<text x="230.50" y="400.78" font-size="6.9" text-anchor="middle" textLength="11.47" lengthAdjust="spacingAndGlyphs">−10</text>
<line x1="257.75" y1="388.00" x2="257.75" y2="391.00" stroke="#262626" stroke-width="0.8"/>
<text x="257.75" y="400.78" font-size="6.9" text-anchor="middle" textLength="8.17" lengthAdjust="spacingAndGlyphs">−5</text>
<line x1="285.00" y1="388.00" x2="285.00" y2="391.00" stroke="#262626" stroke-width="0.8"/>
<text x="285.00" y="400.78" font-size="6.9" text-anchor="middle" textLength="3.3" lengthAdjust="spacingAndGlyphs">0</text>
<line x1="312.25" y1="388.00" x2="312.25" y2="391.00" stroke="#262626" stroke-width="0.8"/>
<text x="312.25" y="400.78" font-size="6.9" text-anchor="middle" textLength="3.3" lengthAdjust="spacingAndGlyphs">5</text>
<line x1="339.50" y1="388.00" x2="339.50" y2="391.00" stroke="#262626" stroke-width="0.8"/>
<text x="339.50" y="400.78" font-size="6.9" text-anchor="middle" textLength="6.6" lengthAdjust="spacingAndGlyphs">10</text>
<line x1="244.12" y1="388.00" x2="244.12" y2="389.60" stroke="#262626" stroke-width="0.7"/>
<line x1="271.38" y1="388.00" x2="271.38" y2="389.60" stroke="#262626" stroke-width="0.7"/>
<line x1="298.62" y1="388.00" x2="298.62" y2="389.60" stroke="#262626" stroke-width="0.7"/>
<line x1="325.88" y1="388.00" x2="325.88" y2="389.60" stroke="#262626" stroke-width="0.7"/>
<text x="284.80" y="413.24" font-size="9" text-anchor="middle" textLength="18.4" lengthAdjust="spacingAndGlyphs">LogFC</text>
<text transform="translate(194.60,326.00) rotate(-90)" x="0" y="2.95" font-size="8.2" text-anchor="middle" textLength="38.6" lengthAdjust="spacingAndGlyphs">-Log10(FDR)</text>
<text x="234.10" y="357.24" font-size="5.4" textLength="10.8" lengthAdjust="spacingAndGlyphs" fill="#404040">Dmtn</text>
<text x="259.70" y="359.94" font-size="5.4" textLength="11" lengthAdjust="spacingAndGlyphs" fill="#404040">Gata1</text>
<text x="230.10" y="379.14" font-size="5.4" textLength="11.4" lengthAdjust="spacingAndGlyphs" fill="#404040">Alas2</text>
<text x="191.05" y="458.20" font-size="11.6" font-weight="bold" fill="#111">H</text>
<text x="258.80" y="455.98" font-size="9.4" textLength="57.5" lengthAdjust="spacingAndGlyphs">(NFIA-ETO2 vs</text>
<text x="258.80" y="476.68" font-size="9.4" textLength="57.5" lengthAdjust="spacingAndGlyphs">(NFIA-ETO2 vs</text>
<text x="239.50" y="466.68" font-size="9.4" textLength="95.5" lengthAdjust="spacingAndGlyphs">NFIA-ETO2<tspan font-size="5" dy="-3.3">ΔNHR4</tspan><tspan dy="3.3"> DM) vs</tspan></text>
<text x="243.80" y="487.18" font-size="9.4" textLength="86.2" lengthAdjust="spacingAndGlyphs">NFIA-ETO2<tspan font-size="5" dy="-3.3">ΔNHR4</tspan><tspan dy="3.3"> MM)</tspan></text>
<path d="M285.5 611.9h0M284.3 607.0h0M288.9 609.1h0M287.6 613.2h0M285.8 611.6h0M288.7 592.7h0M285.3 610.1h0M284.8 611.0h0M287.6 582.7h0M288.3 608.7h0M288.4 611.9h0M284.7 613.9h0M284.6 605.7h0M286.5 577.1h0M287.0 576.7h0M284.5 597.6h0M284.0 559.3h0M289.1 603.0h0M284.1 613.2h0M285.5 609.3h0M285.7 590.8h0M286.8 596.0h0M284.5 597.3h0M287.4 596.8h0M288.6 592.8h0M287.1 585.0h0M288.6 603.4h0M283.6 593.2h0M286.6 604.0h0M284.0 610.0h0M287.7 595.1h0M285.2 599.5h0M289.3 586.0h0M288.0 606.2h0M285.7 609.4h0M289.5 610.1h0M284.5 604.4h0M289.2 597.4h0M284.4 610.2h0M285.7 591.6h0M286.1 592.3h0M289.1 610.1h0M284.7 592.9h0M285.0 607.0h0M287.6 612.3h0M284.2 605.6h0M284.2 602.2h0M285.5 611.0h0M286.0 603.6h0M284.1 611.7h0M289.0 606.8h0M285.0 595.3h0M289.6 596.9h0M289.0 609.8h0M284.6 578.2h0M289.0 611.6h0M284.3 604.2h0M287.1 608.2h0M286.3 611.5h0M284.5 612.7h0M285.2 613.8h0M287.0 608.4h0M286.3 578.0h0M288.9 594.1h0M283.6 589.8h0M283.8 608.7h0M287.8 589.7h0M287.4 598.7h0M289.5 605.8h0M287.8 600.9h0M285.8 591.9h0M288.7 592.3h0M284.2 612.7h0M288.8 612.8h0M287.4 612.9h0M287.8 593.9h0M286.8 595.7h0M284.5 589.9h0M284.7 609.3h0M289.5 593.4h0M286.2 611.2h0M283.8 607.4h0M287.8 605.0h0M286.2 602.9h0M286.1 610.6h0M288.9 594.7h0M288.7 599.2h0M286.3 609.1h0M284.2 606.9h0M286.1 606.1h0M284.7 600.2h0M287.9 604.7h0M289.3 610.9h0M286.1 606.9h0M284.9 612.2h0M285.7 600.8h0M286.9 612.3h0M284.7 614.0h0M286.5 606.7h0M288.7 613.2h0M283.7 574.6h0M284.5 583.5h0M287.8 604.2h0M288.6 609.5h0M286.6 566.0h0M285.4 602.5h0M288.3 613.5h0M289.1 601.8h0M287.3 601.2h0M287.6 606.0h0M288.2 582.1h0M285.8 591.5h0M283.7 613.9h0M287.9 610.4h0M284.7 613.3h0M287.9 588.9h0M284.1 601.1h0M283.7 600.3h0M284.1 609.2h0M288.4 608.1h0M288.3 576.3h0M289.4 598.2h0M288.4 611.1h0M285.1 595.9h0M286.4 612.8h0M284.8 611.4h0M289.3 595.0h0M288.6 613.4h0M283.9 612.0h0M284.4 614.0h0M284.4 611.4h0M284.8 613.1h0M288.5 608.7h0M285.2 611.3h0M284.2 610.3h0M283.8 612.7h0M287.1 604.4h0M284.2 587.5h0M288.1 611.7h0" stroke="#f2b83a" stroke-width="1.50" stroke-linecap="round" fill="none"/>
<path d="M284.0 604.0h0M283.9 604.8h0M286.2 613.1h0M286.1 591.2h0M283.9 588.6h0M284.5 612.4h0M288.5 611.4h0M287.4 607.9h0M284.0 613.2h0M287.7 606.7h0M287.1 606.2h0M288.4 598.4h0M284.5 605.3h0M287.6 595.2h0M287.2 602.7h0M288.6 576.4h0M288.5 609.6h0M287.6 613.7h0M284.6 612.4h0M288.2 612.2h0M285.9 587.3h0M288.5 588.1h0M289.3 611.9h0M285.0 610.5h0M287.1 610.0h0M286.1 608.0h0M289.3 598.8h0M287.3 599.3h0M288.4 607.5h0M284.2 600.9h0M284.0 611.0h0M285.6 613.3h0M284.5 612.6h0M283.8 587.0h0M284.5 610.2h0M289.6 605.8h0M284.1 612.6h0M285.2 591.1h0M283.7 574.8h0M284.5 603.8h0M288.8 598.5h0M286.8 594.4h0M288.0 610.7h0M285.7 613.6h0M285.8 610.8h0M289.0 590.1h0M287.5 593.1h0M288.1 605.5h0M289.4 607.4h0M289.3 597.2h0M289.5 600.1h0M286.9 612.2h0M289.4 600.4h0M288.6 610.9h0M285.4 610.4h0M285.2 606.9h0M289.1 608.3h0M287.1 583.5h0M289.1 604.9h0M286.7 613.8h0M286.9 608.9h0M286.9 594.1h0M287.0 610.3h0M288.2 604.8h0M288.2 582.3h0M287.3 604.8h0M287.8 606.2h0M288.9 576.9h0M284.4 612.3h0M284.0 610.4h0M284.9 574.4h0M288.6 611.7h0M286.7 608.6h0M285.5 597.4h0M286.9 606.5h0M285.6 601.3h0M289.4 612.6h0M283.8 594.4h0M288.5 610.1h0M287.4 593.0h0M286.3 608.6h0M289.2 609.9h0M286.8 610.5h0M284.6 613.3h0M285.3 605.0h0M285.7 613.8h0M283.7 596.8h0M284.2 591.8h0M286.6 590.6h0M287.4 607.3h0M283.9 612.2h0M288.0 610.2h0M287.6 609.7h0M285.4 606.0h0M289.4 603.7h0M289.4 609.2h0M283.6 607.8h0M286.6 611.1h0M283.6 610.0h0M286.0 613.4h0M285.4 610.6h0M287.9 586.5h0M284.4 604.4h0M287.8 610.6h0M284.4 608.2h0M287.4 599.2h0M284.0 596.6h0M286.6 607.7h0M287.5 613.0h0M285.1 596.3h0M287.0 613.8h0M287.7 609.5h0M286.4 605.8h0M289.2 613.8h0M286.3 609.9h0M289.3 610.9h0M284.4 591.7h0M288.9 598.2h0M289.0 605.3h0M283.6 605.2h0M285.4 612.0h0M285.5 590.2h0M288.1 590.2h0M285.3 607.9h0M289.6 602.4h0M286.2 609.8h0M284.2 590.6h0M289.2 610.3h0M286.7 611.3h0M286.9 597.5h0M287.5 609.6h0M289.2 612.2h0M285.4 603.4h0M284.6 611.7h0M289.0 605.1h0M286.3 612.0h0M284.1 608.6h0M285.0 610.1h0M288.9 596.0h0M286.1 604.3h0M285.6 613.2h0M289.4 612.3h0M287.4 588.2h0M285.2 610.3h0M288.8 613.7h0M287.9 584.6h0M287.1 614.0h0M289.4 610.3h0M288.2 606.1h0M283.8 594.2h0M289.1 600.5h0M287.8 612.5h0M286.7 602.6h0M284.9 602.1h0M287.5 586.0h0M287.8 609.2h0M286.6 599.4h0M285.0 613.5h0M286.1 599.1h0M288.4 596.5h0M284.8 568.5h0M288.5 610.6h0M286.6 611.3h0M284.5 607.5h0M289.4 612.0h0M289.2 608.8h0M289.2 596.2h0M287.6 607.8h0M285.6 611.6h0M284.3 570.7h0M286.2 613.3h0M285.8 581.2h0M285.8 584.5h0M283.8 613.5h0M289.0 608.6h0M289.3 601.5h0M287.9 609.1h0M287.4 576.7h0M289.3 607.6h0M288.5 594.7h0M285.6 609.0h0M288.3 612.9h0M288.1 610.3h0M283.8 603.5h0M285.2 612.9h0M286.6 597.9h0M285.4 603.1h0M288.0 611.1h0M287.1 608.9h0M289.6 604.8h0M288.6 582.0h0M285.4 612.3h0M285.8 587.9h0M284.9 608.0h0M284.8 610.2h0M287.5 611.0h0M285.6 599.3h0M286.9 613.2h0M286.1 609.7h0M289.3 609.1h0M289.6 608.1h0M288.0 611.0h0M286.0 586.1h0M284.6 613.8h0M287.4 582.7h0M287.3 608.0h0M284.5 609.7h0M289.2 612.5h0M289.5 605.4h0M287.3 591.4h0M288.3 610.7h0M288.7 591.0h0M284.9 607.4h0M285.9 612.3h0M287.9 584.4h0M287.0 595.6h0M288.6 612.4h0M286.9 601.2h0M286.1 602.6h0M287.6 606.3h0M283.7 601.5h0M286.3 611.4h0M284.2 612.2h0M284.2 606.4h0M283.8 600.8h0M288.0 594.5h0M283.9 604.9h0M284.8 562.0h0M289.3 581.8h0M288.3 579.3h0M285.7 595.7h0M284.8 610.0h0M285.5 613.5h0M285.8 587.2h0M287.1 586.2h0M289.6 601.1h0M283.9 591.7h0M287.1 599.8h0M283.6 613.6h0M287.3 606.6h0M289.0 612.2h0M287.5 613.7h0M285.7 612.5h0M284.9 602.6h0M284.8 601.3h0M284.4 578.1h0M288.8 594.2h0M285.1 583.6h0M286.8 607.2h0M284.0 594.4h0M286.9 577.2h0M284.8 601.8h0M287.4 592.2h0M285.5 609.4h0M286.4 596.4h0M285.0 612.6h0M285.2 603.5h0M288.3 604.4h0M287.5 570.4h0M288.9 613.8h0M287.8 588.7h0M287.9 603.0h0M284.9 601.3h0M289.1 612.0h0M284.2 579.6h0M284.5 613.6h0M288.0 613.1h0M289.1 576.5h0M284.8 612.5h0M288.6 601.0h0M284.8 609.0h0M283.7 610.1h0M287.9 608.0h0M287.3 613.6h0M286.2 594.7h0M287.8 604.0h0M284.6 614.0h0M283.6 605.2h0M288.4 611.3h0M285.7 590.8h0M289.3 609.7h0M287.8 605.0h0M285.7 607.3h0M283.8 611.0h0M289.0 605.0h0M288.9 610.5h0M287.5 608.4h0M288.1 611.6h0M288.2 602.7h0M286.4 585.9h0M288.7 611.8h0M285.1 608.9h0M284.6 608.8h0M289.5 597.0h0M289.4 612.6h0M284.2 611.0h0M286.4 612.0h0M287.9 601.1h0M283.8 603.8h0M288.3 577.3h0M284.2 602.9h0M288.6 604.4h0M286.0 595.3h0M289.5 608.3h0M285.2 607.4h0M285.7 610.0h0M288.0 577.4h0M284.9 593.0h0M288.5 600.9h0M288.5 605.8h0M285.7 589.3h0M285.9 610.2h0M285.3 610.3h0M289.0 594.1h0M288.6 601.0h0M285.1 612.6h0M285.0 594.5h0M284.6 585.2h0M288.3 590.3h0M286.2 586.1h0M285.2 610.5h0M286.6 613.2h0M284.5 605.2h0M286.8 588.2h0M288.6 605.8h0M287.6 590.1h0M286.1 572.0h0M287.4 600.9h0M285.6 562.0h0M286.5 584.4h0M287.9 601.2h0M288.8 608.1h0M286.8 594.9h0M286.2 606.9h0M286.0 604.9h0M288.4 608.8h0M288.9 603.8h0M285.4 613.9h0M288.3 582.7h0M287.2 599.1h0M284.2 611.4h0M287.0 610.1h0M286.1 609.0h0M287.5 578.7h0M287.0 613.5h0M286.3 613.8h0M286.5 607.1h0M287.5 610.9h0M284.3 569.9h0M288.8 612.2h0M286.4 579.0h0M289.4 597.6h0M284.6 588.4h0M284.0 608.0h0M286.2 599.3h0M287.4 607.0h0M287.0 609.5h0M288.6 602.1h0M286.2 585.5h0M288.4 609.7h0M285.2 606.9h0M288.5 585.6h0M285.7 612.8h0M289.2 610.5h0M287.7 605.9h0M288.2 610.6h0M289.0 585.9h0M286.5 602.4h0M285.8 603.2h0M286.7 611.9h0M289.6 607.9h0M287.4 593.9h0M287.2 608.5h0M288.8 605.3h0M285.2 594.4h0M289.4 610.2h0M284.8 611.4h0M284.0 602.2h0M284.3 572.4h0M287.6 607.5h0M284.9 613.5h0M289.2 599.3h0M287.1 595.6h0M285.5 610.1h0M286.5 611.6h0M284.5 599.3h0M287.9 611.2h0M288.8 585.5h0M288.7 601.1h0M285.6 591.5h0M287.4 612.0h0M283.9 597.7h0M284.5 587.4h0M286.1 611.8h0M288.6 608.7h0M284.3 564.0h0M289.0 599.7h0M286.5 609.6h0M289.6 580.3h0M285.3 584.6h0M283.7 592.6h0M286.8 611.3h0M289.1 610.8h0M287.9 611.2h0M284.1 601.8h0M285.2 611.0h0M287.8 592.3h0M286.0 597.4h0M288.8 605.2h0M285.8 611.7h0M287.2 613.9h0M286.3 604.6h0M285.5 597.9h0M289.3 605.1h0M286.8 604.0h0M289.4 610.7h0M284.8 613.8h0M283.9 612.3h0M286.6 609.7h0M286.0 612.1h0M288.8 611.9h0M289.2 607.6h0M288.6 604.3h0M289.2 594.5h0" stroke="#eea21c" stroke-width="1.50" stroke-linecap="round" fill="none"/>
<path d="M284.9 601.2h0M287.1 607.4h0M287.0 604.3h0M288.0 609.6h0M286.3 603.6h0M286.1 608.2h0M289.0 594.3h0M285.8 612.3h0M284.9 592.3h0M289.3 606.3h0M284.4 611.9h0M289.2 606.6h0M287.6 594.1h0M284.5 586.1h0M284.4 606.9h0M286.2 613.0h0M288.7 613.1h0M284.7 605.6h0M286.6 598.9h0M284.1 590.1h0M286.3 610.0h0M283.9 590.6h0M284.8 596.5h0M289.0 611.1h0M284.5 604.3h0M289.2 597.8h0M287.4 582.2h0M286.3 574.0h0M289.2 591.3h0M285.4 606.0h0M285.0 610.3h0M285.1 599.7h0M288.2 609.5h0M286.1 599.8h0M284.0 607.5h0M288.9 596.8h0M285.3 608.4h0M283.6 595.7h0M285.0 605.6h0M286.2 605.2h0M289.5 586.1h0M287.6 596.1h0M285.1 611.8h0M288.5 600.2h0M289.4 602.6h0M285.2 594.4h0M285.7 607.0h0M284.8 612.2h0M289.2 607.6h0M289.3 612.1h0M284.5 604.9h0M288.4 610.0h0M285.0 596.3h0M288.1 608.9h0M285.6 610.4h0M288.9 613.1h0M289.4 604.9h0M288.9 612.8h0M286.0 596.4h0M286.1 599.4h0M285.9 605.3h0M287.0 610.7h0M287.6 608.1h0M288.3 599.6h0M287.3 599.1h0M288.5 602.9h0M287.2 577.9h0M285.6 601.9h0M287.7 602.0h0M288.6 592.3h0M287.0 609.8h0M288.4 599.0h0M283.7 613.6h0M283.9 603.4h0M286.3 575.8h0M287.0 600.7h0M284.6 570.1h0M285.7 583.7h0M287.9 600.5h0M289.2 610.8h0M286.3 612.7h0M286.5 609.0h0M284.8 608.1h0M288.0 609.5h0M289.1 605.6h0M287.9 592.0h0M288.1 613.2h0" stroke="#d98a10" stroke-width="1.50" stroke-linecap="round" fill="none"/>
<path d="M303.8 608.7h0M308.5 589.5h0M304.8 604.2h0M305.4 604.9h0M302.1 600.7h0M307.4 609.8h0M309.4 601.4h0M306.0 609.9h0M306.2 611.9h0M302.9 609.5h0M304.2 610.4h0M306.3 590.2h0M306.5 600.3h0M307.6 606.0h0M306.8 605.8h0M303.8 610.7h0M304.9 602.5h0M304.7 588.3h0M306.4 605.2h0M305.4 613.2h0M305.4 596.7h0M307.9 611.8h0M308.8 591.6h0M301.8 595.1h0M309.0 601.8h0M304.2 607.6h0M308.8 605.0h0M303.3 609.3h0M306.5 602.7h0M308.7 572.6h0M305.3 582.6h0M302.2 603.2h0M309.3 594.7h0M310.0 604.5h0M307.4 607.6h0M307.3 604.3h0M304.9 607.3h0M310.0 608.5h0M308.5 611.6h0M309.8 591.3h0M309.1 606.9h0M304.2 604.7h0M307.0 613.4h0M306.6 599.7h0M305.9 603.5h0M306.5 607.1h0M303.1 595.5h0M302.6 611.6h0M304.4 597.7h0M303.2 610.0h0M309.2 602.7h0M305.5 607.7h0M305.4 601.4h0M308.5 609.3h0M305.8 593.5h0M303.2 608.2h0M309.8 609.5h0M302.7 604.1h0M305.1 613.1h0M308.6 608.4h0M303.4 609.7h0M302.1 599.8h0M303.1 598.1h0M304.0 590.6h0M305.9 610.6h0M302.9 598.1h0M309.2 602.5h0M303.8 601.8h0M309.0 612.3h0M305.0 600.1h0M304.3 607.6h0M303.3 589.3h0M307.2 612.5h0M304.8 605.0h0M302.3 609.2h0M302.8 597.6h0M309.0 588.3h0M307.2 608.4h0M307.2 598.4h0M307.8 597.8h0M302.1 611.7h0M304.3 607.8h0M304.3 600.8h0M308.2 609.6h0M308.8 601.8h0M302.5 598.6h0M307.9 591.1h0M302.8 595.3h0M307.6 592.7h0M307.0 603.8h0M302.3 608.2h0M303.5 609.2h0M307.6 599.6h0M303.8 604.6h0M309.5 608.4h0M309.1 612.0h0M304.5 592.0h0M308.6 612.4h0M304.8 611.0h0M305.5 612.4h0M305.6 608.1h0M309.8 603.2h0M305.8 606.6h0M307.2 610.2h0M308.7 609.4h0M307.9 608.9h0M308.6 609.0h0M303.8 613.5h0M309.2 576.3h0M305.9 611.8h0M302.5 613.5h0M303.4 597.3h0M306.0 606.9h0M309.2 611.7h0M305.4 603.2h0M303.4 612.8h0M302.3 599.3h0M305.7 600.5h0M304.6 585.9h0M303.3 599.2h0M302.5 600.0h0M306.6 607.0h0M306.4 607.4h0M303.3 585.3h0M302.7 588.2h0M302.6 604.2h0M305.8 603.5h0M306.5 612.4h0M306.6 612.9h0M306.4 594.6h0M308.2 613.2h0M304.9 613.8h0M308.6 612.3h0M302.2 602.0h0M306.3 592.9h0M309.4 599.4h0M306.6 612.4h0M302.7 593.0h0M309.6 613.8h0M308.4 613.5h0M308.5 599.2h0M305.0 587.2h0M302.4 608.8h0M309.1 602.4h0M303.2 608.2h0M306.5 607.6h0M301.8 602.7h0M304.0 609.8h0M303.9 603.1h0M307.0 608.1h0M304.7 603.6h0M302.3 608.7h0M309.9 605.5h0M303.8 610.5h0M305.5 606.3h0M304.3 611.6h0M306.3 578.0h0M309.4 602.6h0M304.7 594.6h0M308.9 613.1h0M309.2 609.8h0M302.0 611.7h0M307.6 610.8h0M309.7 602.1h0M308.4 586.9h0M302.9 611.3h0M304.6 613.2h0M302.2 601.2h0M305.9 602.2h0M304.5 612.7h0M303.0 595.1h0M308.5 606.8h0M309.8 606.2h0M306.1 577.2h0M303.7 595.6h0M302.0 612.1h0M305.9 603.5h0M309.5 608.1h0M305.9 600.9h0M308.4 606.0h0M302.3 600.5h0M308.9 613.2h0M306.9 610.7h0M304.0 606.6h0M303.6 603.0h0M308.9 587.6h0M308.0 591.5h0M303.1 599.1h0M303.5 586.0h0M308.2 588.1h0M304.2 613.7h0M303.0 596.7h0M303.2 599.1h0M307.5 613.5h0M303.7 606.7h0M304.4 586.6h0M305.8 612.1h0M303.3 599.0h0M307.9 605.0h0M309.0 596.9h0M303.3 610.0h0M302.2 604.8h0M306.4 608.1h0M307.4 600.2h0M309.0 597.6h0M305.0 607.7h0M303.9 601.7h0M303.8 611.1h0M302.2 598.6h0M307.1 603.6h0M308.8 604.7h0M305.0 604.3h0M306.3 610.7h0M304.0 582.9h0M307.7 604.4h0M306.1 604.4h0M308.5 610.5h0M308.5 612.3h0M303.9 612.6h0M308.4 604.4h0M307.5 606.2h0M308.3 595.5h0M307.4 608.1h0M303.7 608.0h0M304.9 613.8h0M306.5 613.2h0M307.7 609.8h0M303.8 590.6h0M307.0 588.5h0M304.8 613.4h0M304.8 597.8h0M304.7 607.7h0M304.9 604.3h0M309.2 595.6h0M306.7 605.9h0M308.7 607.0h0M309.1 606.5h0M307.9 607.3h0M308.1 612.4h0M302.4 591.9h0M302.5 595.8h0M308.5 587.3h0M304.5 604.5h0M309.9 609.8h0M306.4 604.7h0M308.4 588.7h0M303.5 613.3h0M304.9 605.9h0M303.4 581.3h0M302.2 609.1h0M305.2 603.2h0M304.0 593.3h0M307.6 592.9h0M305.5 578.5h0M309.0 613.2h0M302.4 602.2h0M303.0 581.5h0M302.1 590.5h0M303.7 602.7h0M304.5 590.1h0M305.0 613.6h0M307.1 610.7h0M305.3 599.2h0M310.0 577.5h0M305.9 579.5h0M305.8 588.1h0M306.2 612.8h0M303.7 580.4h0M302.2 608.7h0M303.8 596.4h0M308.3 609.4h0M306.4 612.7h0M308.3 602.2h0M302.1 604.6h0M307.1 612.2h0M305.7 611.9h0M309.0 612.4h0M306.2 612.4h0M303.1 604.0h0M304.8 611.1h0M303.5 612.2h0M305.8 593.6h0M303.1 610.0h0M305.0 604.5h0M309.1 612.9h0M307.6 613.2h0M305.6 581.0h0M309.5 607.1h0M307.4 611.9h0M303.0 611.1h0M310.0 593.6h0M308.0 600.8h0M302.6 597.6h0M307.3 596.2h0M308.2 587.4h0M303.7 611.1h0M307.4 597.9h0M309.5 591.3h0M308.3 613.9h0M305.2 601.9h0M304.6 610.9h0M308.7 601.4h0M302.8 599.1h0M308.5 611.4h0M309.7 608.1h0M303.4 590.9h0M306.1 614.0h0M303.9 608.4h0M306.3 588.2h0M309.2 605.0h0M307.4 603.4h0M307.9 613.5h0M309.1 612.0h0M306.5 613.4h0M307.9 600.7h0M308.1 609.5h0M307.6 598.7h0M308.3 608.5h0M306.0 586.7h0M307.9 611.6h0M302.2 609.4h0M309.7 571.4h0M303.4 609.0h0M302.7 610.1h0M308.2 609.1h0M308.0 605.7h0M307.3 595.8h0M304.8 581.6h0M304.2 601.1h0M304.0 610.4h0M305.2 592.6h0M309.2 612.1h0M302.3 607.1h0M308.8 599.7h0M305.1 602.9h0M307.6 601.7h0M304.0 610.9h0M302.4 590.3h0M301.8 601.1h0M304.1 613.2h0M306.4 592.6h0M308.6 612.5h0M307.0 608.6h0M302.0 604.9h0M306.6 607.4h0M302.4 605.6h0M305.5 608.6h0M305.1 609.7h0M307.8 604.6h0M303.4 598.2h0M302.3 611.0h0M304.0 608.3h0M304.3 613.4h0M305.5 612.6h0M303.1 594.5h0M305.7 591.6h0M302.7 603.2h0M303.5 610.2h0M302.9 613.8h0M306.6 607.8h0M308.6 594.0h0M302.2 585.4h0M304.9 612.6h0M302.8 611.1h0M302.2 605.7h0M307.3 597.7h0M307.1 598.7h0M303.0 582.8h0M308.4 613.5h0M303.8 579.3h0M309.3 610.0h0M301.9 595.6h0M309.8 597.9h0M308.4 611.7h0M306.4 591.6h0M302.4 613.3h0M304.2 607.4h0M308.5 606.0h0M307.1 611.0h0M306.3 608.3h0M302.6 608.0h0M308.1 611.9h0M309.8 595.0h0M306.7 604.5h0M305.3 586.6h0M303.9 609.4h0M304.5 612.7h0M308.0 609.8h0M305.2 613.7h0M309.1 581.0h0M308.3 604.1h0M306.2 577.9h0" stroke="#eea21c" stroke-width="1.50" stroke-linecap="round" fill="none"/>
<path d="M309.8 592.8h0M306.0 572.8h0M308.4 586.0h0M306.1 606.6h0M302.8 602.3h0M303.1 613.1h0M309.3 612.2h0M306.7 608.4h0M306.5 586.5h0M306.7 608.3h0M307.1 604.1h0M309.1 602.6h0M308.8 609.1h0M309.7 605.1h0M303.6 609.2h0M303.3 612.4h0M305.3 604.7h0M302.4 613.9h0M306.3 613.9h0M307.1 601.2h0M307.0 589.7h0M303.1 606.4h0M309.3 587.9h0M304.2 603.0h0M302.4 606.5h0M305.0 611.6h0M309.0 603.2h0M304.9 612.0h0M303.0 604.9h0M302.0 606.0h0M308.3 587.2h0M302.9 613.9h0M303.3 602.7h0M303.4 602.0h0M309.0 600.7h0M305.6 613.8h0M308.1 608.1h0M303.3 596.6h0M305.2 581.3h0M304.5 605.4h0M305.5 602.7h0M309.8 613.9h0M304.7 605.1h0M304.7 610.9h0M306.3 598.8h0M304.4 606.9h0M301.8 601.8h0M308.7 594.1h0M303.6 612.0h0M308.6 584.8h0M302.5 607.5h0M309.4 611.2h0M305.2 602.6h0M304.4 610.2h0M302.2 609.3h0M307.0 613.3h0M306.4 611.8h0M308.6 612.3h0M303.1 611.6h0M304.5 590.0h0M308.9 604.9h0M305.9 594.4h0M308.6 578.0h0M309.7 604.1h0M303.7 605.2h0M309.1 601.8h0M305.0 605.0h0M304.9 579.7h0M304.0 611.0h0M306.4 608.3h0M304.3 600.5h0M304.7 611.3h0M305.9 584.3h0M302.6 599.3h0M306.6 610.7h0M310.0 592.8h0M309.8 596.1h0M309.3 597.9h0M303.5 610.4h0M302.3 610.5h0M302.1 612.7h0M302.7 593.9h0M309.3 614.0h0M307.8 589.4h0M302.1 599.2h0M309.8 600.2h0M308.1 590.4h0M308.1 594.6h0M304.8 604.0h0M309.3 598.8h0" stroke="#d98a10" stroke-width="1.50" stroke-linecap="round" fill="none"/>
<path d="M303.8 606.9h0M308.2 578.1h0M304.2 609.3h0M309.9 609.4h0M304.7 599.4h0M307.9 596.3h0M305.7 594.0h0M306.5 607.0h0M305.5 606.0h0M305.0 608.9h0M309.3 608.9h0M305.8 606.5h0M302.7 584.8h0M303.3 611.4h0M308.3 609.2h0M301.8 609.3h0M308.5 601.7h0M302.3 613.8h0M303.8 607.6h0M305.4 590.5h0M303.1 608.3h0M306.2 609.9h0M305.1 582.9h0M304.1 613.6h0M308.7 608.4h0M308.7 603.0h0M303.9 606.6h0M304.7 614.0h0M303.8 612.5h0M303.5 582.0h0M305.3 579.4h0M307.9 591.0h0M305.5 613.3h0M308.0 611.6h0M306.7 606.0h0M304.1 611.1h0M308.0 612.9h0M302.9 613.6h0M303.2 594.0h0M306.3 608.0h0M307.0 591.7h0M306.6 612.9h0M308.7 588.9h0M305.3 609.7h0M305.4 599.7h0M309.7 601.4h0M306.3 597.7h0M307.7 612.6h0M303.5 609.4h0M305.3 585.5h0M308.9 611.6h0M304.6 595.3h0M307.8 575.6h0M303.4 606.3h0M306.3 609.5h0M306.2 598.8h0M305.7 611.8h0M302.2 612.0h0M302.1 603.3h0M309.0 594.6h0M307.4 609.3h0M307.9 604.8h0M304.3 609.2h0M307.1 611.2h0M303.5 608.9h0M307.1 607.2h0M302.3 601.6h0M306.6 603.5h0M306.7 608.8h0M303.9 597.8h0M308.2 609.2h0M301.9 605.6h0M303.1 613.6h0M309.2 612.5h0M303.5 595.5h0M304.6 581.4h0M302.1 610.5h0M309.8 614.0h0M310.0 610.5h0M307.9 607.8h0M307.4 608.9h0M308.5 606.0h0M302.2 607.8h0M305.3 593.6h0M305.1 600.4h0M307.6 607.9h0M304.5 613.0h0M306.0 591.4h0M307.4 603.5h0M302.3 599.1h0M305.8 613.3h0M306.6 608.1h0M309.4 603.3h0M305.9 599.4h0M304.2 610.9h0M302.6 612.7h0M309.6 607.0h0M303.9 583.3h0M303.1 613.2h0M302.6 605.9h0M304.2 608.4h0M304.0 584.9h0M304.6 576.4h0M304.7 607.9h0M307.4 610.6h0M303.7 602.2h0M302.1 601.5h0M308.5 608.6h0M302.5 610.3h0M306.9 589.7h0M307.9 590.8h0M306.6 606.6h0M308.3 610.2h0M308.2 593.5h0M302.5 600.3h0M304.6 602.3h0M301.9 612.5h0M302.5 609.9h0M305.4 599.9h0M309.5 606.1h0M307.3 613.0h0M304.8 599.9h0M304.9 604.4h0M309.8 613.2h0M308.0 585.2h0M307.1 592.8h0M303.1 602.9h0M305.5 590.4h0M308.1 613.5h0M306.3 595.8h0M307.0 598.7h0M305.0 577.3h0M304.6 607.5h0M306.2 604.4h0M308.7 593.8h0M303.0 599.5h0M307.9 591.6h0M309.0 612.2h0M302.4 602.0h0M308.4 608.2h0M306.5 610.8h0M303.5 590.2h0M306.2 613.6h0M302.3 601.1h0M305.5 599.1h0M304.0 603.3h0M309.3 597.3h0M308.9 597.4h0M304.7 584.2h0M309.9 582.4h0M309.8 606.5h0M305.0 592.3h0M302.4 608.9h0M309.1 605.4h0M306.6 600.8h0M305.4 613.1h0M303.7 607.5h0M308.6 600.9h0M307.3 579.4h0M306.9 602.3h0M307.9 613.7h0M302.4 612.4h0M305.1 601.7h0M309.3 596.8h0M309.3 590.4h0M309.5 606.4h0M308.6 609.1h0M303.1 604.2h0" stroke="#f2b83a" stroke-width="1.50" stroke-linecap="round" fill="none"/>
<polygon points="289.9,576 289.0,614 293.6,614" fill="#8c86c8"/>
<polygon points="299.4,592 296.6,614 302.0,614" fill="#8c86c8"/>
<path d="M313.2 613.3h0M330.1 600.1h0M314.9 602.9h0M312.8 609.8h0M315.1 608.7h0M317.4 609.8h0M315.8 579.5h0M312.1 603.8h0M318.4 606.9h0M311.7 611.1h0M323.3 605.7h0M313.9 568.9h0M330.1 613.8h0M311.4 609.3h0M312.0 597.2h0M312.7 601.6h0M314.5 602.8h0M311.7 606.4h0M320.7 613.4h0M313.1 597.5h0M322.8 591.5h0M317.1 611.3h0M318.9 603.4h0M316.7 607.4h0M329.6 608.3h0M337.4 611.4h0M313.4 607.8h0M317.5 602.9h0M333.5 608.0h0M314.0 598.4h0M311.9 589.3h0M322.0 603.7h0M316.0 601.9h0M314.2 603.1h0M322.1 586.4h0M313.7 608.4h0M315.9 585.8h0M317.1 610.8h0M315.8 576.4h0M314.4 613.8h0M320.5 609.5h0M311.5 604.0h0M311.3 593.1h0M316.9 583.1h0M314.8 610.3h0M315.0 591.0h0M313.3 612.7h0M318.3 612.1h0M318.4 609.4h0M321.9 601.2h0M328.1 611.3h0M324.4 591.9h0M319.3 608.6h0M317.3 609.5h0M313.7 603.2h0M330.0 612.6h0M316.5 611.3h0M311.3 596.9h0M317.8 589.2h0M315.8 602.2h0M313.1 603.0h0M315.0 605.2h0M317.0 605.7h0M315.5 613.2h0M317.0 602.1h0M323.0 605.5h0M320.3 611.3h0M313.1 613.5h0M315.6 610.7h0M316.0 589.2h0M312.3 607.1h0M321.3 613.4h0M324.7 591.7h0M320.0 609.3h0M312.8 604.1h0M319.7 598.8h0M328.1 610.7h0M312.9 602.3h0M315.1 598.0h0M318.4 584.7h0M325.8 594.1h0M316.3 606.2h0M315.9 594.8h0M314.8 591.2h0M338.0 612.4h0M320.3 602.4h0M317.1 608.4h0M317.5 600.8h0M326.2 607.0h0M316.9 585.3h0M315.2 611.8h0M321.8 603.4h0M314.7 580.1h0M313.9 608.8h0M312.2 599.4h0M322.8 611.4h0" stroke="#8e1a3e" stroke-width="1.40" stroke-linecap="round" fill="none"/>
<path d="M316.3 609.0h0M314.6 610.6h0M324.8 605.0h0M313.6 603.2h0M315.8 572.6h0M312.9 602.3h0M312.3 607.2h0M314.3 610.5h0M318.2 604.1h0M320.1 585.6h0M313.6 597.4h0M322.5 604.1h0M323.4 606.2h0M314.5 597.9h0M319.1 608.5h0M311.8 595.2h0M313.0 574.5h0M318.5 601.1h0M321.5 608.6h0M314.6 605.0h0M314.4 605.3h0M311.8 598.1h0M312.6 607.8h0M328.1 595.8h0M311.3 610.4h0M312.0 609.3h0M312.6 609.7h0M314.6 603.2h0M311.4 596.3h0M331.0 613.6h0M318.2 604.9h0M317.4 593.7h0M335.8 612.4h0M321.2 609.1h0M324.6 613.3h0M313.8 575.3h0M317.1 606.7h0M312.6 605.0h0M315.1 592.2h0M314.6 602.8h0M311.8 607.5h0M314.9 602.8h0M326.2 594.6h0M316.5 613.8h0M312.1 607.2h0M324.0 590.8h0M322.6 602.8h0M318.6 593.9h0M315.6 602.5h0M320.0 601.8h0M321.6 613.8h0M312.1 586.1h0M316.8 601.6h0M326.2 600.8h0M313.6 606.9h0M311.7 604.3h0M311.4 580.3h0M317.1 597.5h0M311.5 608.6h0M318.6 609.0h0M311.4 596.3h0M315.1 589.9h0M324.2 613.3h0M329.0 610.9h0M323.6 592.2h0M315.5 608.6h0M331.3 604.9h0M327.1 601.9h0M312.3 613.8h0M311.6 588.4h0M313.7 611.9h0M313.9 610.0h0M312.4 603.7h0M312.3 613.9h0M324.4 595.9h0M318.4 608.6h0M325.1 613.2h0M320.9 600.6h0M318.2 596.1h0M316.5 602.9h0M326.2 608.7h0M312.7 606.1h0M327.5 606.5h0M316.1 587.4h0M314.3 596.0h0" stroke="#a8204a" stroke-width="1.40" stroke-linecap="round" fill="none"/>
<path d="M311.4 602.5h0M314.1 597.6h0M317.7 610.5h0M313.9 613.7h0M323.7 609.7h0M315.4 605.5h0M317.7 611.1h0M312.9 607.8h0M323.6 613.8h0M318.4 612.8h0M314.6 603.5h0M330.9 606.9h0M311.4 593.1h0M321.4 597.8h0M313.5 608.7h0M332.6 609.6h0M313.2 583.1h0M323.3 613.9h0M322.8 608.3h0M326.3 597.5h0M319.8 613.9h0M329.1 612.0h0M318.0 611.6h0M311.9 611.0h0M318.7 613.7h0M316.3 594.2h0M314.2 595.1h0M311.8 608.4h0M312.9 613.2h0M312.4 605.9h0M311.8 604.3h0M320.0 596.9h0M315.2 613.4h0M311.3 594.5h0M323.1 605.0h0M312.0 596.4h0M314.6 602.3h0M313.0 605.3h0M311.8 610.9h0M315.8 612.4h0M312.6 599.6h0M316.4 610.9h0M323.3 611.7h0M314.2 597.1h0M333.3 608.6h0" stroke="#c0406a" stroke-width="1.40" stroke-linecap="round" fill="none"/>
<path d="M313.7 594.3h0M312.2 590.1h0M311.3 611.5h0M314.3 583.4h0M314.8 593.1h0M321.6 602.0h0M314.6 601.2h0M311.4 601.5h0M314.7 597.8h0M313.3 582.4h0M313.0 597.6h0M319.0 604.8h0M311.8 602.1h0M312.9 609.6h0M312.5 611.3h0M322.4 589.9h0M329.1 607.0h0M316.3 600.1h0M316.5 609.7h0M335.5 610.3h0M323.9 614.0h0M311.8 591.0h0M312.1 602.2h0M317.6 601.4h0M313.1 581.2h0M316.2 606.4h0M318.3 581.5h0M319.8 598.0h0M328.6 602.4h0M320.6 610.7h0M320.9 611.1h0M316.1 578.8h0M315.2 597.9h0M312.9 589.2h0" stroke="#7a1030" stroke-width="1.40" stroke-linecap="round" fill="none"/>
<path d="M281.6 608.0h0M281.7 602.3h0M278.7 606.2h0M279.6 606.3h0M280.0 606.6h0M280.1 612.5h0M277.9 613.7h0M277.5 612.7h0M278.4 593.9h0M281.3 606.0h0M273.9 600.3h0M279.9 613.9h0M281.5 613.5h0M279.8 611.2h0M279.8 612.7h0M282.0 609.3h0M281.2 602.8h0M275.9 603.7h0M276.7 600.1h0M275.1 611.3h0M281.6 610.1h0M281.6 610.0h0M270.3 611.4h0" stroke="#8e1a3e" stroke-width="1.40" stroke-linecap="round" fill="none"/>
<path d="M276.9 600.6h0M277.5 606.7h0M271.4 611.9h0M281.8 603.8h0M281.2 606.8h0M276.1 601.6h0M274.6 609.1h0M272.1 609.5h0M277.0 599.1h0M279.4 603.3h0M281.5 613.7h0M274.3 610.0h0M279.4 613.6h0" stroke="#c0406a" stroke-width="1.40" stroke-linecap="round" fill="none"/>
<path d="M281.6 606.4h0M280.6 592.7h0M271.8 611.6h0M276.9 608.3h0M269.8 612.7h0M281.5 608.2h0M279.2 609.4h0M270.6 606.3h0M278.8 612.2h0M273.4 608.7h0M278.6 612.9h0M279.5 613.2h0M272.0 610.5h0M281.0 608.2h0M280.5 611.7h0M281.1 605.9h0M271.5 612.2h0M271.1 611.3h0M279.7 611.9h0M278.2 613.1h0M278.6 613.1h0M273.1 606.0h0M264.9 611.2h0" stroke="#a8204a" stroke-width="1.40" stroke-linecap="round" fill="none"/>
<path d="M278.2 601.6h0M277.4 613.0h0M280.5 609.6h0M273.0 613.2h0M274.1 606.5h0M279.9 596.7h0M275.7 612.2h0M281.6 598.1h0M280.6 612.4h0M279.9 600.2h0M279.0 611.2h0" stroke="#7a1030" stroke-width="1.40" stroke-linecap="round" fill="none"/>
<path d="M270.9 613.9h0M278.9 611.2h0M276.2 608.7h0M281.9 613.1h0M275.9 613.7h0M278.3 608.5h0M272.7 608.7h0M270.1 613.7h0M271.7 610.5h0M279.9 610.8h0M281.7 612.2h0M282.0 611.9h0M272.4 606.9h0M281.2 605.1h0M277.4 612.2h0M275.3 612.0h0M263.3 608.4h0M282.0 611.8h0M265.3 609.7h0M276.6 613.5h0M257.6 613.0h0M278.8 608.8h0M277.9 612.6h0M281.3 613.8h0M265.1 610.7h0M262.9 609.8h0M268.1 613.4h0M268.7 613.8h0M281.7 605.8h0M267.7 612.0h0M242.8 613.6h0" stroke="#f5c86a" stroke-width="1.30" stroke-linecap="round" fill="none"/>
<path d="M279.6 610.1h0M276.0 610.0h0M279.1 611.3h0M261.7 612.2h0M278.2 610.8h0M278.4 613.1h0M279.1 610.3h0M280.2 613.7h0M274.3 607.8h0M273.4 613.4h0M247.8 613.0h0M275.5 612.3h0M278.4 612.1h0M261.1 611.8h0M270.4 611.8h0M277.4 611.7h0M279.3 611.3h0M271.0 608.6h0M279.5 605.7h0M269.9 610.5h0M252.3 611.8h0M274.8 611.7h0M278.5 612.5h0M270.5 613.5h0M257.9 610.7h0M279.7 610.9h0M276.3 613.1h0M250.2 613.9h0M268.2 612.5h0M277.1 613.5h0M255.5 613.9h0M252.1 611.7h0M265.2 613.0h0" stroke="#f2b83a" stroke-width="1.30" stroke-linecap="round" fill="none"/>
<path d="M270.6 612.8h0M278.1 608.1h0M277.6 612.7h0M278.8 610.3h0M280.7 606.3h0M274.1 613.5h0M257.9 612.0h0M266.7 612.1h0M279.0 609.6h0M282.0 612.1h0M280.6 611.5h0M262.4 612.6h0M280.0 613.2h0M276.6 610.8h0M277.6 613.6h0M271.9 613.2h0M261.2 612.4h0M253.1 613.6h0M263.3 613.8h0M274.8 614.0h0M280.5 612.6h0M279.9 612.0h0M264.1 612.8h0M278.7 612.9h0M281.3 607.3h0M266.6 610.3h0M281.1 612.7h0M275.4 608.6h0M261.8 613.6h0M277.8 613.7h0M277.5 608.4h0M269.2 613.3h0M266.1 613.7h0M281.6 609.8h0M273.6 613.2h0M280.3 607.1h0M280.9 612.5h0M261.9 613.0h0M249.4 613.2h0M258.1 612.9h0M249.7 612.7h0M267.2 609.2h0M276.7 612.5h0M268.2 611.3h0M268.1 614.0h0M278.7 606.2h0M274.9 607.7h0M281.3 613.5h0M251.8 611.9h0M268.1 607.3h0M279.6 613.8h0M274.6 613.0h0M266.0 611.9h0M261.2 614.0h0M271.3 608.0h0M270.8 608.5h0M275.9 612.3h0M279.1 610.7h0M278.6 613.3h0M273.1 612.2h0M280.2 611.8h0M271.8 607.3h0M273.7 612.2h0M263.7 610.0h0M272.4 611.7h0M276.4 611.4h0" stroke="#eea21c" stroke-width="1.30" stroke-linecap="round" fill="none"/>
<path d="M324.7 611.1h0M319.6 612.1h0M336.2 611.6h0M312.9 609.4h0M346.9 613.6h0M315.9 607.4h0M318.3 611.3h0M313.6 612.1h0M332.1 613.0h0M320.1 612.8h0M337.2 609.9h0M327.7 608.8h0M321.4 611.8h0M316.5 612.9h0M333.1 613.2h0M314.5 610.6h0M311.6 614.0h0M332.4 612.5h0M332.1 609.1h0M336.3 612.9h0M321.4 606.3h0M317.5 611.0h0M346.1 612.3h0M339.3 614.0h0M314.7 610.5h0M325.8 613.8h0M325.9 610.4h0M321.1 612.5h0M331.7 610.7h0M320.6 613.5h0M337.5 610.7h0M328.9 610.7h0M329.1 608.0h0M334.6 610.9h0M318.8 605.9h0M330.4 613.4h0M318.2 612.9h0M316.0 608.1h0M351.0 613.6h0M319.2 613.3h0M315.6 613.5h0M332.1 610.0h0M318.3 611.4h0M326.2 613.6h0M315.4 613.7h0M322.9 614.0h0M311.7 613.2h0M324.9 614.0h0M313.4 612.8h0M318.0 607.4h0" stroke="#f2b83a" stroke-width="1.30" stroke-linecap="round" fill="none"/>
<path d="M311.5 609.6h0M311.5 608.1h0M319.0 611.7h0M316.2 610.5h0M323.1 612.4h0M315.1 613.0h0M318.6 608.9h0M318.2 612.5h0M351.8 613.7h0M315.0 613.7h0M327.7 609.3h0M317.9 613.9h0M313.5 613.1h0M315.6 614.0h0M311.8 612.9h0M326.1 612.2h0M322.6 609.9h0M315.1 613.6h0M313.3 613.4h0M335.2 610.3h0M320.0 612.7h0M339.5 612.7h0M323.7 611.6h0M328.4 613.0h0M325.5 610.2h0M311.6 611.0h0M333.0 613.9h0M312.1 613.6h0M335.6 612.9h0M316.0 609.0h0M312.7 608.9h0M314.0 611.4h0M312.0 611.6h0M311.8 613.0h0M325.9 611.9h0M319.3 613.7h0M312.6 613.8h0M337.9 612.7h0M324.3 611.6h0M334.3 611.1h0M336.8 613.6h0M319.8 613.7h0M313.2 608.9h0M323.4 612.2h0M334.5 613.8h0M314.4 609.8h0M313.0 607.8h0M344.3 613.8h0M341.3 611.8h0M333.7 609.5h0M317.5 609.6h0M323.2 611.6h0M321.6 611.5h0M315.1 608.9h0M317.9 612.1h0M327.3 610.8h0M326.0 614.0h0M316.1 611.9h0M318.7 606.0h0M337.5 610.6h0M315.0 610.8h0M312.7 613.7h0M342.6 611.7h0M321.8 612.9h0M326.1 611.9h0M342.4 611.1h0M313.7 611.8h0M337.3 611.3h0M316.2 610.3h0M331.8 610.2h0M338.4 613.4h0M312.9 612.2h0M313.9 611.7h0" stroke="#eea21c" stroke-width="1.30" stroke-linecap="round" fill="none"/>
<path d="M326.7 609.0h0M320.6 610.6h0M314.4 613.0h0M326.0 608.4h0M313.5 611.1h0M313.5 612.4h0M341.4 613.7h0M316.4 613.5h0M327.1 613.1h0M311.5 612.8h0M334.9 612.0h0M330.7 611.6h0M345.2 613.5h0M325.9 611.4h0M338.9 613.9h0M319.5 609.5h0M315.6 610.3h0M317.4 613.9h0M318.7 613.1h0M318.6 610.4h0M334.7 612.0h0M331.1 613.5h0M312.6 609.7h0M328.3 608.4h0M329.8 612.4h0M328.8 612.8h0M335.6 610.0h0M328.1 613.4h0M344.8 614.0h0M332.5 609.0h0M316.6 611.2h0M332.5 613.1h0M313.4 612.5h0M332.7 611.2h0M321.9 611.2h0M312.0 611.6h0M337.9 612.4h0" stroke="#f5c86a" stroke-width="1.30" stroke-linecap="round" fill="none"/>
<path d="M282.0 497.0h0M279.0 548.0h0M273.0 575.0h0M264.0 588.0h0M231.0 598.0h0M244.0 583.0h0M313.0 522.0h0M318.0 548.0h0M327.0 560.0h0M336.0 592.0h0M322.0 566.0h0M341.0 580.0h0M331.0 575.0h0M345.0 600.0h0" stroke="#b04a6a" stroke-width="1.20" stroke-linecap="round" fill="none"/>
<line x1="283.10" y1="492.20" x2="283.10" y2="619.30" stroke="#8a8a8a" stroke-width="0.9"/>
<line x1="310.30" y1="492.20" x2="310.30" y2="619.30" stroke="#555" stroke-width="0.9"/>
<line x1="221.50" y1="614.00" x2="354.50" y2="614.00" stroke="#4a4a4a" stroke-width="1"/>
<rect x="221.50" y="492.20" width="133.00" height="127.10" fill="none" stroke="#2a2a2a" stroke-width="1.3"/>
<line x1="218.90" y1="513.30" x2="221.50" y2="513.30" stroke="#262626" stroke-width="0.8"/>
<text x="215.30" y="515.78" font-size="6.9" text-anchor="end" textLength="7.06" lengthAdjust="spacingAndGlyphs">30</text>
<line x1="218.90" y1="548.30" x2="221.50" y2="548.30" stroke="#262626" stroke-width="0.8"/>
<text x="215.30" y="550.78" font-size="6.9" text-anchor="end" textLength="7.06" lengthAdjust="spacingAndGlyphs">20</text>
<line x1="218.90" y1="583.30" x2="221.50" y2="583.30" stroke="#262626" stroke-width="0.8"/>
<text x="215.30" y="585.78" font-size="6.9" text-anchor="end" textLength="7.06" lengthAdjust="spacingAndGlyphs">10</text>
<line x1="218.90" y1="618.30" x2="221.50" y2="618.30" stroke="#262626" stroke-width="0.8"/>
<text x="215.30" y="620.78" font-size="6.9" text-anchor="end" textLength="3.53" lengthAdjust="spacingAndGlyphs">0</text>
<line x1="220.00" y1="495.80" x2="221.50" y2="495.80" stroke="#262626" stroke-width="0.7"/>
<line x1="220.00" y1="530.80" x2="221.50" y2="530.80" stroke="#262626" stroke-width="0.7"/>
<line x1="220.00" y1="565.80" x2="221.50" y2="565.80" stroke="#262626" stroke-width="0.7"/>
<line x1="220.00" y1="600.80" x2="221.50" y2="600.80" stroke="#262626" stroke-width="0.7"/>
<line x1="229.40" y1="619.30" x2="229.40" y2="622.30" stroke="#262626" stroke-width="0.8"/>
<text x="229.40" y="631.98" font-size="6.9" text-anchor="middle" textLength="11.47" lengthAdjust="spacingAndGlyphs">−10</text>
<line x1="263.20" y1="619.30" x2="263.20" y2="622.30" stroke="#262626" stroke-width="0.8"/>
<text x="263.20" y="631.98" font-size="6.9" text-anchor="middle" textLength="8.17" lengthAdjust="spacingAndGlyphs">−5</text>
<line x1="297.00" y1="619.30" x2="297.00" y2="622.30" stroke="#262626" stroke-width="0.8"/>
<text x="297.00" y="631.98" font-size="6.9" text-anchor="middle" textLength="3.3" lengthAdjust="spacingAndGlyphs">0</text>
<line x1="330.80" y1="619.30" x2="330.80" y2="622.30" stroke="#262626" stroke-width="0.8"/>
<text x="330.80" y="631.98" font-size="6.9" text-anchor="middle" textLength="3.3" lengthAdjust="spacingAndGlyphs">5</text>
<line x1="246.30" y1="619.30" x2="246.30" y2="620.90" stroke="#262626" stroke-width="0.7"/>
<line x1="280.10" y1="619.30" x2="280.10" y2="620.90" stroke="#262626" stroke-width="0.7"/>
<line x1="313.90" y1="619.30" x2="313.90" y2="620.90" stroke="#262626" stroke-width="0.7"/>
<line x1="347.70" y1="619.30" x2="347.70" y2="620.90" stroke="#262626" stroke-width="0.7"/>
<text x="287.00" y="644.64" font-size="9" text-anchor="middle" textLength="18.4" lengthAdjust="spacingAndGlyphs">LogFC</text>
<text transform="translate(195.40,555.90) rotate(-90)" x="0" y="2.95" font-size="8.2" text-anchor="middle" textLength="39.2" lengthAdjust="spacingAndGlyphs">-Log10(FDR)</text>
<text x="296.60" y="515.64" font-size="5.4" textLength="12.6" lengthAdjust="spacingAndGlyphs" fill="#404040">Psen2</text>
<text x="294.50" y="528.84" font-size="5.4" textLength="14.6" lengthAdjust="spacingAndGlyphs" fill="#404040">Trim35</text>
<text x="295.40" y="537.14" font-size="5.4" textLength="13.8" lengthAdjust="spacingAndGlyphs" fill="#404040">Casp3</text>
<text x="293.80" y="550.54" font-size="5.4" textLength="15.2" lengthAdjust="spacingAndGlyphs" fill="#404040">Notch2</text>
<text x="270.00" y="534.44" font-size="5.4" textLength="12" lengthAdjust="spacingAndGlyphs" fill="#404040">Brpf3</text>
<text x="266.00" y="557.14" font-size="5.4" textLength="15" lengthAdjust="spacingAndGlyphs" fill="#404040">Hemgn</text>
<text x="293.60" y="592.44" font-size="5.4" textLength="13.4" lengthAdjust="spacingAndGlyphs" fill="#404040">Stat5a</text>
<text x="249.20" y="604.94" font-size="5.4" textLength="17.4" lengthAdjust="spacingAndGlyphs" fill="#404040">Runx1t1</text>
<text x="270.60" y="605.14" font-size="5.4" textLength="11" lengthAdjust="spacingAndGlyphs" fill="#404040">Xpo7</text>
<text x="312.50" y="528.94" font-size="5.4" textLength="8" lengthAdjust="spacingAndGlyphs" fill="#404040">Myb</text>
<text x="313.00" y="536.44" font-size="5.4" textLength="10" lengthAdjust="spacingAndGlyphs" fill="#404040">Tgs19</text>
<text x="262.00" y="617.84" font-size="5.4" textLength="16.6" lengthAdjust="spacingAndGlyphs" fill="#404040">Notch1</text>
<text x="279.80" y="618.14" font-size="5.4" textLength="12.2" lengthAdjust="spacingAndGlyphs" fill="#404040">Bmp2</text>
<text x="297.00" y="618.14" font-size="5.4" textLength="13" lengthAdjust="spacingAndGlyphs" fill="#404040">Gata2</text>
<text x="315.50" y="602.74" font-size="5.4" textLength="8" lengthAdjust="spacingAndGlyphs" fill="#404040">Pir2</text>
<text x="324.80" y="609.24" font-size="5.4" textLength="8.7" lengthAdjust="spacingAndGlyphs" fill="#404040">Fgf2</text>
<text x="288.50" y="611.54" font-size="5.4" textLength="8" lengthAdjust="spacingAndGlyphs" fill="#404040">Ets1</text>
<text x="299.50" y="604.94" font-size="5.4" textLength="8" lengthAdjust="spacingAndGlyphs" fill="#404040">Mxi1</text>
<text x="270.60" y="610.84" font-size="5.4" textLength="11" lengthAdjust="spacingAndGlyphs" fill="#9a1838">Klf3</text>
<text x="314.60" y="609.44" font-size="5.4" textLength="7" lengthAdjust="spacingAndGlyphs" fill="#9a1838">Zfp</text>
<line x1="245.50" y1="603.00" x2="248.00" y2="603.00" stroke="#555" stroke-width="0.6"/>
<text x="364.20" y="16.70" font-size="11.6" font-weight="bold" fill="#111">C</text>
<text x="422.00" y="26.08" font-size="9.4" text-anchor="middle" textLength="36.6" lengthAdjust="spacingAndGlyphs">MEL cells</text>
<rect x="364.20" y="75.35" width="7.60" height="25.76" fill="#565656"/>
<rect x="379.80" y="75.35" width="7.60" height="23.73" fill="#565656"/>
<rect x="395.20" y="75.35" width="7.60" height="24.41" fill="#565656"/>
<rect x="410.50" y="75.35" width="7.60" height="23.50" fill="#565656"/>
<rect x="425.90" y="54.11" width="7.60" height="21.24" fill="#cbcbcb"/>
<rect x="441.20" y="47.10" width="7.60" height="28.25" fill="#cbcbcb"/>
<rect x="456.60" y="45.74" width="7.60" height="29.61" fill="#cbcbcb"/>
<rect x="472.00" y="49.13" width="7.60" height="26.22" fill="#cbcbcb"/>
<line x1="359.00" y1="75.35" x2="487.50" y2="75.35" stroke="#262626" stroke-width="1.1"/>
<line x1="485.30" y1="49.30" x2="485.30" y2="100.80" stroke="#262626" stroke-width="1.3"/>
<line x1="485.30" y1="52.75" x2="487.70" y2="52.75" stroke="#262626" stroke-width="0.9"/>
<text transform="translate(495.00,52.75) rotate(-90)" x="0" y="2.52" font-size="7.0" text-anchor="middle">2</text>
<line x1="485.30" y1="64.05" x2="487.70" y2="64.05" stroke="#262626" stroke-width="0.9"/>
<text transform="translate(495.00,64.05) rotate(-90)" x="0" y="2.52" font-size="7.0" text-anchor="middle">1</text>
<line x1="485.30" y1="75.35" x2="487.70" y2="75.35" stroke="#262626" stroke-width="0.9"/>
<text transform="translate(495.00,75.35) rotate(-90)" x="0" y="2.52" font-size="7.0" text-anchor="middle">0</text>
<line x1="485.30" y1="86.65" x2="487.70" y2="86.65" stroke="#262626" stroke-width="0.9"/>
<text transform="translate(495.00,86.65) rotate(-90)" x="0" y="2.52" font-size="7.0" text-anchor="middle">−1</text>
<line x1="485.30" y1="97.95" x2="487.70" y2="97.95" stroke="#262626" stroke-width="0.9"/>
<text transform="translate(495.00,97.95) rotate(-90)" x="0" y="2.52" font-size="7.0" text-anchor="middle">−2</text>
<text transform="translate(505.50,78.20) rotate(-90)" x="0" y="3.10" font-size="8.6" text-anchor="middle" textLength="12.4" lengthAdjust="spacingAndGlyphs">NES</text>
<text transform="translate(368.40,72.10) rotate(-90)" x="0" y="2.41" font-size="6.7" textLength="41.1" lengthAdjust="spacingAndGlyphs">(<tspan font-style="italic">P</tspan> = 2.11e-05)</text>
<text transform="translate(384.00,72.10) rotate(-90)" x="0" y="2.41" font-size="6.7" textLength="41.1" lengthAdjust="spacingAndGlyphs">(<tspan font-style="italic">P</tspan> = 2.08e-05)</text>
<text transform="translate(399.40,72.10) rotate(-90)" x="0" y="2.41" font-size="6.7" textLength="41.1" lengthAdjust="spacingAndGlyphs">(<tspan font-style="italic">P</tspan> = 3.58e-04)</text>
<text transform="translate(414.70,72.10) rotate(-90)" x="0" y="2.41" font-size="6.7" textLength="41.1" lengthAdjust="spacingAndGlyphs">(<tspan font-style="italic">P</tspan> = 8.24e-04)</text>
<text transform="translate(368.30,189.60) rotate(-90)" x="0" y="2.41" font-size="6.7" textLength="84.2" lengthAdjust="spacingAndGlyphs">BIOCARTA_AHSP_PATHWAY</text>
<text transform="translate(379.60,189.60) rotate(-90)" x="0" y="2.41" font-size="6.7" textLength="82.1" lengthAdjust="spacingAndGlyphs">IVANOVA_HEMATOPOIESIS</text>
<text transform="translate(388.00,189.60) rotate(-90)" x="0" y="2.41" font-size="6.7" textLength="48.2" lengthAdjust="spacingAndGlyphs">_MATURE_CELL</text>
<text transform="translate(397.50,189.60) rotate(-90)" x="0" y="2.41" font-size="6.7" textLength="73.6" lengthAdjust="spacingAndGlyphs">STEINER_ERYTHROCYTE</text>
<text transform="translate(405.30,189.60) rotate(-90)" x="0" y="2.41" font-size="6.7" textLength="65.2" lengthAdjust="spacingAndGlyphs">_MEMBRANE_GENES</text>
<text transform="translate(414.40,189.60) rotate(-90)" x="0" y="2.41" font-size="6.7" textLength="76.7" lengthAdjust="spacingAndGlyphs">WELCH_GATA1_TARGETS</text>
<text transform="translate(429.80,208.80) rotate(-90)" x="0" y="2.41" font-size="6.7" textLength="130.1" lengthAdjust="spacingAndGlyphs">IVANOVA_HEMATOPOIESIS  (<tspan font-style="italic">P</tspan> = 1.93e-05)</text>
<text transform="translate(437.30,205.00) rotate(-90)" x="0" y="2.41" font-size="6.7" textLength="65.2" lengthAdjust="spacingAndGlyphs">_EARLY_PROGENITOR</text>
<text transform="translate(445.50,221.70) rotate(-90)" x="0" y="2.41" font-size="6.7" textLength="143" lengthAdjust="spacingAndGlyphs">KARLSSON_TGFB1_TARGETS_UP (<tspan font-style="italic">P</tspan> = 1.92e-05)</text>
<text transform="translate(460.40,197.40) rotate(-90)" x="0" y="2.41" font-size="6.7" textLength="118.7" lengthAdjust="spacingAndGlyphs">LEE_BMP2_TARGETS_DN (<tspan font-style="italic">P</tspan> = 1.91e-05)</text>
<text transform="translate(475.80,231.20) rotate(-90)" x="0" y="2.41" font-size="6.7" textLength="152.5" lengthAdjust="spacingAndGlyphs">SCHUHMACHER_MYC_TARGETS_UP (<tspan font-style="italic">P</tspan> = 1.91e-05)</text>
<text x="364.35" y="250.90" font-size="11.6" font-weight="bold" fill="#111">F</text>
<text x="386.60" y="248.98" font-size="9.4" textLength="126" lengthAdjust="spacingAndGlyphs">Primary FL-derived erythroblasts</text>
<rect x="398.00" y="297.90" width="7.20" height="34.51" fill="#565656"/>
<rect x="411.70" y="297.90" width="7.20" height="26.91" fill="#565656"/>
<rect x="424.90" y="279.88" width="7.20" height="18.02" fill="#cbcbcb"/>
<rect x="436.90" y="276.96" width="7.20" height="20.94" fill="#cbcbcb"/>
<rect x="449.10" y="278.71" width="7.20" height="19.19" fill="#cbcbcb"/>
<rect x="461.10" y="280.70" width="7.20" height="17.20" fill="#cbcbcb"/>
<rect x="473.30" y="279.88" width="7.20" height="18.02" fill="#cbcbcb"/>
<line x1="389.40" y1="297.90" x2="487.50" y2="297.90" stroke="#262626" stroke-width="1.1"/>
<line x1="485.40" y1="271.40" x2="485.40" y2="347.00" stroke="#262626" stroke-width="1.3"/>
<line x1="485.40" y1="274.50" x2="487.80" y2="274.50" stroke="#262626" stroke-width="0.9"/>
<text transform="translate(495.00,274.50) rotate(-90)" x="0" y="2.52" font-size="7.0" text-anchor="middle">2</text>
<line x1="485.40" y1="297.90" x2="487.80" y2="297.90" stroke="#262626" stroke-width="0.9"/>
<text transform="translate(495.00,297.90) rotate(-90)" x="0" y="2.52" font-size="7.0" text-anchor="middle">0</text>
<line x1="485.40" y1="321.30" x2="487.80" y2="321.30" stroke="#262626" stroke-width="0.9"/>
<text transform="translate(495.00,321.30) rotate(-90)" x="0" y="2.52" font-size="7.0" text-anchor="middle">−2</text>
<line x1="485.40" y1="344.70" x2="487.80" y2="344.70" stroke="#262626" stroke-width="0.9"/>
<text transform="translate(495.00,344.70) rotate(-90)" x="0" y="2.52" font-size="7.0" text-anchor="middle">−4</text>
<text transform="translate(505.50,308.50) rotate(-90)" x="0" y="3.10" font-size="8.6" text-anchor="middle" textLength="12.4" lengthAdjust="spacingAndGlyphs">NES</text>
<text transform="translate(403.20,294.80) rotate(-90)" x="0" y="2.41" font-size="6.7" textLength="41.8" lengthAdjust="spacingAndGlyphs">(<tspan font-style="italic">P</tspan> = 4.73e-04)</text>
<text transform="translate(415.70,294.80) rotate(-90)" x="0" y="2.41" font-size="6.7" textLength="36.8" lengthAdjust="spacingAndGlyphs">(<tspan font-style="italic">P</tspan> = 2.8e-05)</text>
<text transform="translate(401.40,336.00) rotate(-90)" x="0" y="2.41" font-size="6.7" text-anchor="end" textLength="86" lengthAdjust="spacingAndGlyphs">ERYTHROID_DEVELOPMENT</text>
<text transform="translate(415.90,336.00) rotate(-90)" x="0" y="2.41" font-size="6.7" text-anchor="end" textLength="75.4" lengthAdjust="spacingAndGlyphs">WELCH_GATA1_TARGETS</text>
<text transform="translate(428.20,301.30) rotate(-90)" x="0" y="2.41" font-size="6.7" text-anchor="end" textLength="132.3" lengthAdjust="spacingAndGlyphs">NFIA_TARGETS_TRANSFARC (<tspan font-style="italic">P</tspan> = 1.08e-4)</text>
<text transform="translate(441.60,301.30) rotate(-90)" x="0" y="2.41" font-size="6.7" text-anchor="end" textLength="135.4" lengthAdjust="spacingAndGlyphs">CHYLA_CBFA2T3_TARGETS_UP (<tspan font-style="italic">P</tspan> = 1.1e-05)</text>
<text transform="translate(453.40,301.30) rotate(-90)" x="0" y="2.41" font-size="6.7" text-anchor="end" textLength="92.1" lengthAdjust="spacingAndGlyphs">IVANOVA_HSCP (<tspan font-style="italic">P</tspan> = 1.0e-05)</text>
<text transform="translate(464.80,301.30) rotate(-90)" x="0" y="2.41" font-size="6.7" text-anchor="end" textLength="73" lengthAdjust="spacingAndGlyphs">V$ELF1_Q6 (<tspan font-style="italic">P</tspan> = 1.1e-05)</text>
<text transform="translate(476.80,301.30) rotate(-90)" x="0" y="2.41" font-size="6.7" text-anchor="end" textLength="68.7" lengthAdjust="spacingAndGlyphs">V$ETS2_B (<tspan font-style="italic">P</tspan> = 2.7e-04)</text>
<text x="364.35" y="458.20" font-size="11.6" font-weight="bold" fill="#111">I</text>
<text x="427.70" y="455.98" font-size="9.4" textLength="58.5" lengthAdjust="spacingAndGlyphs">(NFIA-ETO2 vs</text>
<text x="409.20" y="466.68" font-size="9.4" textLength="95.4" lengthAdjust="spacingAndGlyphs">NFIA-ETO2<tspan font-size="5" dy="-3.3">ΔNHR4</tspan><tspan dy="3.3"> DM) vs</tspan></text>
<text x="427.70" y="476.68" font-size="9.4" textLength="58.5" lengthAdjust="spacingAndGlyphs">(NFIA-ETO2 vs</text>
<text x="413.80" y="487.18" font-size="9.4" textLength="86.2" lengthAdjust="spacingAndGlyphs">NFIA-ETO2<tspan font-size="5" dy="-3.3">ΔNHR4</tspan><tspan dy="3.3"> MM)</tspan></text>
<rect x="410.10" y="539.90" width="6.60" height="38.61" fill="#565656"/>
<rect x="423.10" y="539.90" width="6.60" height="23.10" fill="#565656"/>
<rect x="436.10" y="539.90" width="6.60" height="28.88" fill="#565656"/>
<rect x="448.30" y="516.30" width="6.60" height="23.60" fill="#cbcbcb"/>
<rect x="461.10" y="513.00" width="6.60" height="26.89" fill="#cbcbcb"/>
<rect x="473.30" y="514.65" width="6.60" height="25.25" fill="#cbcbcb"/>
<line x1="395.00" y1="539.90" x2="487.50" y2="539.90" stroke="#262626" stroke-width="1.1"/>
<line x1="485.50" y1="503.60" x2="485.50" y2="592.40" stroke="#262626" stroke-width="1.3"/>
<line x1="485.50" y1="506.90" x2="487.90" y2="506.90" stroke="#262626" stroke-width="0.9"/>
<text transform="translate(495.30,506.90) rotate(-90)" x="0" y="2.52" font-size="7.0" text-anchor="middle">2</text>
<line x1="485.50" y1="523.40" x2="487.90" y2="523.40" stroke="#262626" stroke-width="0.9"/>
<text transform="translate(495.30,523.40) rotate(-90)" x="0" y="2.52" font-size="7.0" text-anchor="middle">1</text>
<line x1="485.50" y1="539.90" x2="487.90" y2="539.90" stroke="#262626" stroke-width="0.9"/>
<text transform="translate(495.30,539.90) rotate(-90)" x="0" y="2.52" font-size="7.0" text-anchor="middle">0</text>
<line x1="485.50" y1="556.40" x2="487.90" y2="556.40" stroke="#262626" stroke-width="0.9"/>
<text transform="translate(495.30,556.40) rotate(-90)" x="0" y="2.52" font-size="7.0" text-anchor="middle">−1</text>
<line x1="485.50" y1="572.90" x2="487.90" y2="572.90" stroke="#262626" stroke-width="0.9"/>
<text transform="translate(495.30,572.90) rotate(-90)" x="0" y="2.52" font-size="7.0" text-anchor="middle">−2</text>
<line x1="485.50" y1="589.40" x2="487.90" y2="589.40" stroke="#262626" stroke-width="0.9"/>
<text transform="translate(495.30,589.40) rotate(-90)" x="0" y="2.52" font-size="7.0" text-anchor="middle">−3</text>
<text transform="translate(505.80,548.20) rotate(-90)" x="0" y="3.10" font-size="8.6" text-anchor="middle" textLength="12.4" lengthAdjust="spacingAndGlyphs">NES</text>
<text transform="translate(414.20,536.30) rotate(-90)" x="0" y="2.41" font-size="6.7" textLength="40.049999999999955" lengthAdjust="spacingAndGlyphs">(<tspan font-style="italic">P</tspan> = 2.77e-05)</text>
<text transform="translate(426.70,536.30) rotate(-90)" x="0" y="2.41" font-size="6.7" textLength="40.049999999999955" lengthAdjust="spacingAndGlyphs">(<tspan font-style="italic">P</tspan> = 2.481e-04)</text>
<text transform="translate(439.20,536.30) rotate(-90)" x="0" y="2.41" font-size="6.7" textLength="36.299999999999955" lengthAdjust="spacingAndGlyphs">(<tspan font-style="italic">P</tspan> = 9.3e-05)</text>
<text transform="translate(413.80,587.40) rotate(-90)" x="0" y="2.41" font-size="6.7" text-anchor="end" textLength="81.7" lengthAdjust="spacingAndGlyphs">GO_OXYGEN_TRANSPORT</text>
<text transform="translate(426.60,587.40) rotate(-90)" x="0" y="2.41" font-size="6.7" text-anchor="end" textLength="99.2" lengthAdjust="spacingAndGlyphs">GAL_LEUKEMIC_STEM_CELL_DN</text>
<text transform="translate(438.80,587.40) rotate(-90)" x="0" y="2.41" font-size="6.7" text-anchor="end" textLength="79.2" lengthAdjust="spacingAndGlyphs">HALLMARK_E2F_TARGETS</text>
<text transform="translate(451.60,587.60) rotate(-90)" x="0" y="2.41" font-size="6.7" text-anchor="end" textLength="105.3" lengthAdjust="spacingAndGlyphs">HALLMARK_IL2_STAT5_SIGNALING</text>
<text transform="translate(464.90,586.90) rotate(-90)" x="0" y="2.41" font-size="6.7" text-anchor="end" textLength="89" lengthAdjust="spacingAndGlyphs">BENPORATH_PRC2_TARGETS</text>
<text transform="translate(474.80,588.50) rotate(-90)" x="0" y="2.41" font-size="6.7" text-anchor="end" textLength="76.5" lengthAdjust="spacingAndGlyphs">IVANOVA_HEMATOPOIESIS</text>
<text transform="translate(482.40,587.00) rotate(-90)" x="0" y="2.41" font-size="6.7" text-anchor="end" textLength="68" lengthAdjust="spacingAndGlyphs">_EARLY_PROGENITOR</text>
<text transform="translate(451.80,584.60) rotate(-90)" x="0" y="2.41" font-size="6.7" textLength="38.2" lengthAdjust="spacingAndGlyphs">(<tspan font-style="italic">P</tspan> = 1.4e-03)</text>
<text transform="translate(464.90,584.60) rotate(-90)" x="0" y="2.41" font-size="6.7" textLength="38.2" lengthAdjust="spacingAndGlyphs">(<tspan font-style="italic">P</tspan> = 1.03e-05)</text>
<text transform="translate(478.70,584.60) rotate(-90)" x="0" y="2.41" font-size="6.7" textLength="38.2" lengthAdjust="spacingAndGlyphs">(<tspan font-style="italic">P</tspan> = 2.45e-04)</text>
</svg>
</body></html>
